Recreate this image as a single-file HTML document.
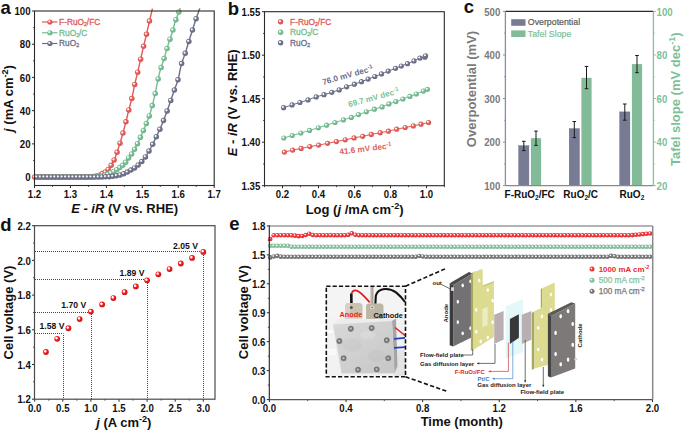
<!DOCTYPE html>
<html><head><meta charset="utf-8"><style>html,body{margin:0;padding:0;background:#fff;}svg{display:block;font-family:"Liberation Sans", sans-serif;}</style></head><body><svg width="685" height="431" viewBox="0 0 685 431"><rect width="685" height="431" fill="#fff"/><defs>
<radialGradient id="ga_r" cx="0.42" cy="0.42" r="0.62" fx="0.36" fy="0.36"><stop offset="0" stop-color="#fff"/><stop offset="0.15" stop-color="#fff" stop-opacity="0.95"/><stop offset="0.42" stop-color="#e4625e"/><stop offset="1" stop-color="#d45450"/></radialGradient>
<radialGradient id="ga_g" cx="0.42" cy="0.42" r="0.62" fx="0.36" fy="0.36"><stop offset="0" stop-color="#fff"/><stop offset="0.15" stop-color="#fff" stop-opacity="0.95"/><stop offset="0.42" stop-color="#7bc196"/><stop offset="1" stop-color="#69b085"/></radialGradient>
<radialGradient id="ga_p" cx="0.42" cy="0.42" r="0.62" fx="0.36" fy="0.36"><stop offset="0" stop-color="#fff"/><stop offset="0.15" stop-color="#fff" stop-opacity="0.95"/><stop offset="0.42" stop-color="#74778f"/><stop offset="1" stop-color="#64677f"/></radialGradient>
<radialGradient id="gd_r" cx="0.42" cy="0.42" r="0.62" fx="0.36" fy="0.36"><stop offset="0" stop-color="#fff"/><stop offset="0.22" stop-color="#fff" stop-opacity="0.95"/><stop offset="0.45" stop-color="#ee2222"/><stop offset="1" stop-color="#cc1010"/></radialGradient>
<radialGradient id="ge_r" cx="0.42" cy="0.42" r="0.62" fx="0.36" fy="0.36"><stop offset="0" stop-color="#fff"/><stop offset="0.12" stop-color="#fff" stop-opacity="0.95"/><stop offset="0.4" stop-color="#ef3c40"/><stop offset="1" stop-color="#e02a2e"/></radialGradient>
<radialGradient id="ge_g" cx="0.42" cy="0.42" r="0.62" fx="0.36" fy="0.36"><stop offset="0" stop-color="#fff"/><stop offset="0.12" stop-color="#fff" stop-opacity="0.95"/><stop offset="0.4" stop-color="#8cc4a2"/><stop offset="1" stop-color="#7ab592"/></radialGradient>
<radialGradient id="ge_k" cx="0.42" cy="0.42" r="0.62" fx="0.36" fy="0.36"><stop offset="0" stop-color="#fff"/><stop offset="0.12" stop-color="#fff" stop-opacity="0.95"/><stop offset="0.4" stop-color="#7d7d7d"/><stop offset="1" stop-color="#6a6a6a"/></radialGradient>
<linearGradient id="plate" x1="0" y1="0" x2="1" y2="1"><stop offset="0" stop-color="#d8d8d8"/><stop offset="0.5" stop-color="#d0d0d0"/><stop offset="1" stop-color="#c6c6c6"/></linearGradient>
<radialGradient id="bolt" cx="0.45" cy="0.45" r="0.55"><stop offset="0" stop-color="#cfcfcf"/><stop offset="0.3" stop-color="#9c9c9c"/><stop offset="0.55" stop-color="#6e6e6e"/><stop offset="0.8" stop-color="#858585"/><stop offset="1" stop-color="#b8b8b8"/></radialGradient>
</defs>
<line x1="34.5" y1="185.5" x2="34.5" y2="188" stroke="#2a2a2a" stroke-width="1" />
<text transform="translate(34.5,198.1) scale(0.91,1)" font-size="10.6" text-anchor="middle" font-weight="bold" fill="#111" >1.2</text>
<line x1="52.47" y1="185.5" x2="52.47" y2="187" stroke="#2a2a2a" stroke-width="0.8" />
<line x1="70.44" y1="185.5" x2="70.44" y2="188" stroke="#2a2a2a" stroke-width="1" />
<text transform="translate(70.44,198.1) scale(0.91,1)" font-size="10.6" text-anchor="middle" font-weight="bold" fill="#111" >1.3</text>
<line x1="88.41" y1="185.5" x2="88.41" y2="187" stroke="#2a2a2a" stroke-width="0.8" />
<line x1="106.38" y1="185.5" x2="106.38" y2="188" stroke="#2a2a2a" stroke-width="1" />
<text transform="translate(106.38,198.1) scale(0.91,1)" font-size="10.6" text-anchor="middle" font-weight="bold" fill="#111" >1.4</text>
<line x1="124.35" y1="185.5" x2="124.35" y2="187" stroke="#2a2a2a" stroke-width="0.8" />
<line x1="142.32" y1="185.5" x2="142.32" y2="188" stroke="#2a2a2a" stroke-width="1" />
<text transform="translate(142.32,198.1) scale(0.91,1)" font-size="10.6" text-anchor="middle" font-weight="bold" fill="#111" >1.5</text>
<line x1="160.29" y1="185.5" x2="160.29" y2="187" stroke="#2a2a2a" stroke-width="0.8" />
<line x1="178.26" y1="185.5" x2="178.26" y2="188" stroke="#2a2a2a" stroke-width="1" />
<text transform="translate(178.26,198.1) scale(0.91,1)" font-size="10.6" text-anchor="middle" font-weight="bold" fill="#111" >1.6</text>
<line x1="196.23" y1="185.5" x2="196.23" y2="187" stroke="#2a2a2a" stroke-width="0.8" />
<line x1="214.2" y1="185.5" x2="214.2" y2="188" stroke="#2a2a2a" stroke-width="1" />
<text transform="translate(214.2,198.1) scale(0.91,1)" font-size="10.6" text-anchor="middle" font-weight="bold" fill="#111" >1.7</text>
<line x1="32" y1="177.1" x2="34.5" y2="177.1" stroke="#2a2a2a" stroke-width="1" />
<text transform="translate(30.5,181.3) scale(0.91,1)" font-size="10.6" text-anchor="end" font-weight="bold" fill="#111" >0</text>
<line x1="33" y1="160.49" x2="34.5" y2="160.49" stroke="#2a2a2a" stroke-width="0.8" />
<line x1="32" y1="143.88" x2="34.5" y2="143.88" stroke="#2a2a2a" stroke-width="1" />
<text transform="translate(30.5,148.08) scale(0.91,1)" font-size="10.6" text-anchor="end" font-weight="bold" fill="#111" >20</text>
<line x1="33" y1="127.27" x2="34.5" y2="127.27" stroke="#2a2a2a" stroke-width="0.8" />
<line x1="32" y1="110.66" x2="34.5" y2="110.66" stroke="#2a2a2a" stroke-width="1" />
<text transform="translate(30.5,114.86) scale(0.91,1)" font-size="10.6" text-anchor="end" font-weight="bold" fill="#111" >40</text>
<line x1="33" y1="94.05" x2="34.5" y2="94.05" stroke="#2a2a2a" stroke-width="0.8" />
<line x1="32" y1="77.44" x2="34.5" y2="77.44" stroke="#2a2a2a" stroke-width="1" />
<text transform="translate(30.5,81.64) scale(0.91,1)" font-size="10.6" text-anchor="end" font-weight="bold" fill="#111" >60</text>
<line x1="33" y1="60.83" x2="34.5" y2="60.83" stroke="#2a2a2a" stroke-width="0.8" />
<line x1="32" y1="44.22" x2="34.5" y2="44.22" stroke="#2a2a2a" stroke-width="1" />
<text transform="translate(30.5,48.42) scale(0.91,1)" font-size="10.6" text-anchor="end" font-weight="bold" fill="#111" >80</text>
<line x1="33" y1="27.61" x2="34.5" y2="27.61" stroke="#2a2a2a" stroke-width="0.8" />
<line x1="32" y1="11" x2="34.5" y2="11" stroke="#2a2a2a" stroke-width="1" />
<text transform="translate(30.5,15.2) scale(0.91,1)" font-size="10.6" text-anchor="end" font-weight="bold" fill="#111" >100</text>
<path d="M34.5,177.1 L34.7,177.1 L34.91,177.1 L35.11,177.1 L35.32,177.1 L35.52,177.1 L35.72,177.1 L35.93,177.1 L36.13,177.1 L36.34,177.1 L36.54,177.1 L36.74,177.1 L36.95,177.1 L37.15,177.1 L37.36,177.1 L37.56,177.1 L37.76,177.1 L37.97,177.1 L38.17,177.1 L38.38,177.1 L38.58,177.1 L38.78,177.1 L38.99,177.1 L39.19,177.1 L39.4,177.1 L39.6,177.1 L39.8,177.1 L40.01,177.1 L40.21,177.1 L40.42,177.1 L40.62,177.1 L40.82,177.1 L41.03,177.1 L41.23,177.1 L41.44,177.1 L41.64,177.1 L41.84,177.1 L42.05,177.1 L42.25,177.1 L42.46,177.1 L42.66,177.1 L42.86,177.1 L43.07,177.1 L43.27,177.1 L43.48,177.1 L43.68,177.1 L43.88,177.1 L44.09,177.1 L44.29,177.1 L44.5,177.1 L44.7,177.1 L44.9,177.1 L45.11,177.1 L45.31,177.1 L45.52,177.1 L45.72,177.1 L45.92,177.1 L46.13,177.1 L46.33,177.1 L46.54,177.1 L46.74,177.1 L46.94,177.1 L47.15,177.1 L47.35,177.1 L47.56,177.1 L47.76,177.1 L47.96,177.1 L48.17,177.1 L48.37,177.1 L48.58,177.1 L48.78,177.1 L48.98,177.1 L49.19,177.1 L49.39,177.1 L49.6,177.1 L49.8,177.1 L50,177.1 L50.21,177.1 L50.41,177.1 L50.62,177.1 L50.82,177.1 L51.02,177.1 L51.23,177.1 L51.43,177.1 L51.64,177.1 L51.84,177.1 L52.04,177.1 L52.25,177.1 L52.45,177.1 L52.66,177.1 L52.86,177.1 L53.06,177.1 L53.27,177.1 L53.47,177.1 L53.68,177.1 L53.88,177.1 L54.08,177.1 L54.29,177.1 L54.49,177.1 L54.7,177.1 L54.9,177.1 L55.1,177.1 L55.31,177.1 L55.51,177.1 L55.72,177.1 L55.92,177.1 L56.12,177.1 L56.33,177.1 L56.53,177.1 L56.74,177.1 L56.94,177.1 L57.14,177.1 L57.35,177.1 L57.55,177.1 L57.76,177.1 L57.96,177.1 L58.16,177.1 L58.37,177.1 L58.57,177.1 L58.78,177.1 L58.98,177.1 L59.18,177.1 L59.39,177.1 L59.59,177.1 L59.8,177.1 L60,177.1 L60.2,177.1 L60.41,177.1 L60.61,177.1 L60.82,177.1 L61.02,177.1 L61.22,177.1 L61.43,177.1 L61.63,177.1 L61.84,177.1 L62.04,177.1 L62.24,177.1 L62.45,177.1 L62.65,177.1 L62.86,177.1 L63.06,177.1 L63.26,177.1 L63.47,177.1 L63.67,177.1 L63.88,177.1 L64.08,177.1 L64.28,177.1 L64.49,177.1 L64.69,177.1 L64.9,177.1 L65.1,177.1 L65.3,177.1 L65.51,177.1 L65.71,177.1 L65.92,177.1 L66.12,177.1 L66.32,177.1 L66.53,177.1 L66.73,177.1 L66.94,177.1 L67.14,177.1 L67.34,177.1 L67.55,177.1 L67.75,177.1 L67.96,177.1 L68.16,177.1 L68.36,177.1 L68.57,177.1 L68.77,177.1 L68.98,177.1 L69.18,177.1 L69.38,177.1 L69.59,177.1 L69.79,177.1 L70,177.1 L70.2,177.1 L70.4,177.1 L70.61,177.1 L70.81,177.1 L71.02,177.1 L71.22,177.1 L71.42,177.1 L71.63,177.1 L71.83,177.1 L72.04,177.1 L72.24,177.1 L72.44,177.1 L72.65,177.1 L72.85,177.1 L73.06,177.1 L73.26,177.1 L73.46,177.1 L73.67,177.1 L73.87,177.1 L74.08,177.1 L74.28,177.1 L74.48,177.1 L74.69,177.1 L74.89,177.1 L75.1,177.1 L75.3,177.1 L75.5,177.1 L75.71,177.1 L75.91,177.1 L76.12,177.1 L76.32,177.1 L76.52,177.1 L76.73,177.1 L76.93,177.1 L77.14,177.1 L77.34,177.1 L77.54,177.1 L77.75,177.1 L77.95,177.1 L78.16,177.1 L78.36,177.1 L78.56,177.1 L78.77,177.1 L78.97,177.1 L79.18,177.1 L79.38,177.1 L79.58,177.1 L79.79,177.1 L79.99,177.1 L80.2,177.1 L80.4,177.1 L80.6,177.1 L80.81,177.1 L81.01,177.1 L81.22,177.1 L81.42,177.1 L81.62,177.1 L81.83,177.1 L82.03,177.1 L82.24,177.1 L82.44,177.09 L82.64,177.09 L82.85,177.09 L83.05,177.09 L83.26,177.08 L83.46,177.08 L83.66,177.08 L83.87,177.07 L84.07,177.07 L84.28,177.07 L84.48,177.06 L84.68,177.06 L84.89,177.05 L85.09,177.05 L85.3,177.04 L85.5,177.03 L85.7,177.03 L85.91,177.02 L86.11,177.02 L86.32,177.01 L86.52,177 L86.72,176.99 L86.93,176.99 L87.13,176.98 L87.34,176.97 L87.54,176.96 L87.74,176.96 L87.95,176.95 L88.15,176.94 L88.36,176.93 L88.56,176.92 L88.76,176.92 L88.97,176.91 L89.17,176.9 L89.38,176.89 L89.58,176.88 L89.78,176.87 L89.99,176.86 L90.19,176.85 L90.4,176.84 L90.6,176.83 L90.8,176.82 L91.01,176.81 L91.21,176.79 L91.42,176.78 L91.62,176.76 L91.82,176.74 L92.03,176.72 L92.23,176.71 L92.44,176.69 L92.64,176.66 L92.84,176.64 L93.05,176.62 L93.25,176.6 L93.46,176.57 L93.66,176.55 L93.86,176.52 L94.07,176.49 L94.27,176.47 L94.48,176.44 L94.68,176.41 L94.88,176.38 L95.09,176.35 L95.29,176.32 L95.5,176.29 L95.7,176.25 L95.9,176.22 L96.11,176.18 L96.31,176.14 L96.52,176.09 L96.72,176.04 L96.92,175.99 L97.13,175.94 L97.33,175.88 L97.54,175.82 L97.74,175.76 L97.94,175.7 L98.15,175.63 L98.35,175.57 L98.56,175.5 L98.76,175.43 L98.96,175.36 L99.17,175.28 L99.37,175.2 L99.58,175.12 L99.78,175.02 L99.98,174.93 L100.19,174.82 L100.39,174.71 L100.6,174.6 L100.8,174.48 L101,174.36 L101.21,174.25 L101.41,174.13 L101.62,174.01 L101.82,173.89 L102.02,173.77 L102.23,173.66 L102.43,173.55 L102.64,173.45 L102.84,173.34 L103.04,173.24 L103.25,173.14 L103.45,173.04 L103.66,172.94 L103.86,172.84 L104.06,172.74 L104.27,172.63 L104.47,172.52 L104.68,172.41 L104.88,172.29 L105.08,172.16 L105.29,172.03 L105.49,171.89 L105.7,171.75 L105.9,171.59 L106.1,171.43 L106.31,171.27 L106.51,171.09 L106.72,170.91 L106.92,170.72 L107.12,170.53 L107.33,170.33 L107.53,170.12 L107.74,169.91 L107.94,169.7 L108.14,169.48 L108.35,169.25 L108.55,169.03 L108.76,168.79 L108.96,168.54 L109.16,168.29 L109.37,168.02 L109.57,167.74 L109.78,167.45 L109.98,167.16 L110.18,166.86 L110.39,166.55 L110.59,166.23 L110.8,165.92 L111,165.59 L111.2,165.26 L111.41,164.93 L111.61,164.6 L111.82,164.26 L112.02,163.91 L112.22,163.56 L112.43,163.21 L112.63,162.84 L112.84,162.47 L113.04,162.09 L113.24,161.7 L113.45,161.3 L113.65,160.9 L113.86,160.48 L114.06,160.05 L114.26,159.61 L114.47,159.16 L114.67,158.69 L114.88,158.21 L115.08,157.7 L115.28,157.18 L115.49,156.65 L115.69,156.1 L115.9,155.54 L116.1,154.97 L116.3,154.4 L116.51,153.82 L116.71,153.23 L116.92,152.65 L117.12,152.06 L117.32,151.47 L117.53,150.87 L117.73,150.27 L117.94,149.66 L118.14,149.05 L118.34,148.42 L118.55,147.79 L118.75,147.16 L118.96,146.52 L119.16,145.87 L119.36,145.22 L119.57,144.56 L119.77,143.9 L119.98,143.24 L120.18,142.58 L120.38,141.91 L120.59,141.23 L120.79,140.56 L121,139.88 L121.2,139.19 L121.4,138.5 L121.61,137.81 L121.81,137.11 L122.02,136.4 L122.22,135.69 L122.42,134.98 L122.63,134.26 L122.83,133.53 L123.04,132.8 L123.24,132.06 L123.44,131.32 L123.65,130.57 L123.85,129.81 L124.06,129.04 L124.26,128.26 L124.46,127.48 L124.67,126.69 L124.87,125.9 L125.08,125.1 L125.28,124.3 L125.48,123.49 L125.69,122.69 L125.89,121.88 L126.1,121.07 L126.3,120.26 L126.5,119.44 L126.71,118.62 L126.91,117.79 L127.12,116.96 L127.32,116.12 L127.52,115.28 L127.73,114.43 L127.93,113.59 L128.14,112.75 L128.34,111.92 L128.54,111.09 L128.75,110.26 L128.95,109.44 L129.16,108.64 L129.36,107.85 L129.56,107.07 L129.77,106.3 L129.97,105.54 L130.18,104.78 L130.38,104.02 L130.58,103.26 L130.79,102.5 L130.99,101.72 L131.2,100.94 L131.4,100.14 L131.6,99.33 L131.81,98.5 L132.01,97.64 L132.22,96.75 L132.42,95.83 L132.62,94.87 L132.83,93.88 L133.03,92.86 L133.24,91.84 L133.44,90.8 L133.64,89.76 L133.85,88.72 L134.05,87.69 L134.26,86.68 L134.46,85.7 L134.66,84.74 L134.87,83.82 L135.07,82.93 L135.28,82.05 L135.48,81.19 L135.68,80.35 L135.89,79.51 L136.09,78.68 L136.3,77.86 L136.5,77.04 L136.7,76.21 L136.91,75.38 L137.11,74.55 L137.32,73.7 L137.52,72.85 L137.72,71.98 L137.93,71.1 L138.13,70.21 L138.34,69.32 L138.54,68.43 L138.74,67.53 L138.95,66.63 L139.15,65.73 L139.36,64.82 L139.56,63.91 L139.76,63.01 L139.97,62.1 L140.17,61.2 L140.38,60.3 L140.58,59.4 L140.78,58.5 L140.99,57.6 L141.19,56.7 L141.4,55.79 L141.6,54.89 L141.8,53.98 L142.01,53.08 L142.21,52.18 L142.42,51.28 L142.62,50.39 L142.82,49.5 L143.03,48.62 L143.23,47.75 L143.44,46.88 L143.64,46.03 L143.84,45.19 L144.05,44.36 L144.25,43.54 L144.46,42.72 L144.66,41.9 L144.86,41.09 L145.07,40.28 L145.27,39.46 L145.48,38.65 L145.68,37.82 L145.88,36.99 L146.09,36.14 L146.29,35.28 L146.5,34.41 L146.7,33.53 L146.9,32.63 L147.11,31.71 L147.31,30.79 L147.52,29.86 L147.72,28.93 L147.92,27.99 L148.13,27.06 L148.33,26.12 L148.54,25.19 L148.74,24.27 L148.94,23.36 L149.15,22.46 L149.35,21.57 L149.56,20.69 L149.76,19.81 L149.96,18.93 L150.17,18.06 L150.37,17.2 L150.58,16.33 L150.78,15.47 L150.98,14.61 L151.19,13.75 L151.39,12.89 L151.6,12.04 L151.8,11.18 L152,10.33 L152.21,9.48 L152.41,8.63" fill="none" stroke="#e05a56" stroke-width="1.4"/>
<circle cx="34.54" cy="177.1" r="2.75" fill="url(#ga_r)"/>
<circle cx="37.48" cy="177.1" r="2.75" fill="url(#ga_r)"/>
<circle cx="40.43" cy="177.1" r="2.75" fill="url(#ga_r)"/>
<circle cx="43.38" cy="177.1" r="2.75" fill="url(#ga_r)"/>
<circle cx="46.32" cy="177.1" r="2.75" fill="url(#ga_r)"/>
<circle cx="49.27" cy="177.1" r="2.75" fill="url(#ga_r)"/>
<circle cx="52.22" cy="177.1" r="2.75" fill="url(#ga_r)"/>
<circle cx="55.17" cy="177.1" r="2.75" fill="url(#ga_r)"/>
<circle cx="58.11" cy="177.1" r="2.75" fill="url(#ga_r)"/>
<circle cx="61.06" cy="177.1" r="2.75" fill="url(#ga_r)"/>
<circle cx="64.01" cy="177.1" r="2.75" fill="url(#ga_r)"/>
<circle cx="66.95" cy="177.1" r="2.75" fill="url(#ga_r)"/>
<circle cx="69.9" cy="177.1" r="2.75" fill="url(#ga_r)"/>
<circle cx="72.85" cy="177.1" r="2.75" fill="url(#ga_r)"/>
<circle cx="75.8" cy="177.1" r="2.75" fill="url(#ga_r)"/>
<circle cx="78.74" cy="177.1" r="2.75" fill="url(#ga_r)"/>
<circle cx="81.69" cy="177.1" r="2.75" fill="url(#ga_r)"/>
<circle cx="84.64" cy="177.06" r="2.75" fill="url(#ga_r)"/>
<circle cx="87.58" cy="176.96" r="2.75" fill="url(#ga_r)"/>
<circle cx="90.53" cy="176.83" r="2.75" fill="url(#ga_r)"/>
<circle cx="93.48" cy="176.57" r="2.75" fill="url(#ga_r)"/>
<circle cx="96.42" cy="176.11" r="2.75" fill="url(#ga_r)"/>
<circle cx="99.37" cy="175.2" r="2.75" fill="url(#ga_r)"/>
<circle cx="102.32" cy="173.61" r="2.75" fill="url(#ga_r)"/>
<circle cx="105.27" cy="172.05" r="2.75" fill="url(#ga_r)"/>
<circle cx="108.21" cy="169.4" r="2.75" fill="url(#ga_r)"/>
<circle cx="111.16" cy="165.33" r="2.75" fill="url(#ga_r)"/>
<circle cx="114.11" cy="159.95" r="2.75" fill="url(#ga_r)"/>
<circle cx="117.05" cy="152.25" r="2.75" fill="url(#ga_r)"/>
<circle cx="120" cy="143.16" r="2.75" fill="url(#ga_r)"/>
<circle cx="122.95" cy="133.11" r="2.75" fill="url(#ga_r)"/>
<circle cx="125.9" cy="121.86" r="2.75" fill="url(#ga_r)"/>
<circle cx="128.84" cy="109.88" r="2.75" fill="url(#ga_r)"/>
<circle cx="131.79" cy="98.57" r="2.75" fill="url(#ga_r)"/>
<circle cx="134.74" cy="84.41" r="2.75" fill="url(#ga_r)"/>
<circle cx="137.68" cy="72.15" r="2.75" fill="url(#ga_r)"/>
<circle cx="140.63" cy="59.18" r="2.75" fill="url(#ga_r)"/>
<circle cx="143.58" cy="46.29" r="2.75" fill="url(#ga_r)"/>
<circle cx="146.52" cy="34.29" r="2.75" fill="url(#ga_r)"/>
<circle cx="149.47" cy="21.05" r="2.75" fill="url(#ga_r)"/>
<path d="M34.5,177.1 L34.75,177.1 L35,177.1 L35.25,177.1 L35.5,177.1 L35.74,177.1 L35.99,177.1 L36.24,177.1 L36.49,177.1 L36.74,177.1 L36.99,177.1 L37.24,177.1 L37.49,177.1 L37.74,177.1 L37.99,177.1 L38.24,177.1 L38.48,177.1 L38.73,177.1 L38.98,177.1 L39.23,177.1 L39.48,177.1 L39.73,177.1 L39.98,177.1 L40.23,177.1 L40.48,177.1 L40.72,177.1 L40.97,177.1 L41.22,177.1 L41.47,177.1 L41.72,177.1 L41.97,177.1 L42.22,177.1 L42.47,177.1 L42.72,177.1 L42.97,177.1 L43.21,177.1 L43.46,177.1 L43.71,177.1 L43.96,177.1 L44.21,177.1 L44.46,177.1 L44.71,177.1 L44.96,177.1 L45.21,177.1 L45.46,177.1 L45.71,177.1 L45.95,177.1 L46.2,177.1 L46.45,177.1 L46.7,177.1 L46.95,177.1 L47.2,177.1 L47.45,177.1 L47.7,177.1 L47.95,177.1 L48.19,177.1 L48.44,177.1 L48.69,177.1 L48.94,177.1 L49.19,177.1 L49.44,177.1 L49.69,177.1 L49.94,177.1 L50.19,177.1 L50.44,177.1 L50.69,177.1 L50.93,177.1 L51.18,177.1 L51.43,177.1 L51.68,177.1 L51.93,177.1 L52.18,177.1 L52.43,177.1 L52.68,177.1 L52.93,177.1 L53.17,177.1 L53.42,177.1 L53.67,177.1 L53.92,177.1 L54.17,177.1 L54.42,177.1 L54.67,177.1 L54.92,177.1 L55.17,177.1 L55.42,177.1 L55.67,177.1 L55.91,177.1 L56.16,177.1 L56.41,177.1 L56.66,177.1 L56.91,177.1 L57.16,177.1 L57.41,177.1 L57.66,177.1 L57.91,177.1 L58.15,177.1 L58.4,177.1 L58.65,177.1 L58.9,177.1 L59.15,177.1 L59.4,177.1 L59.65,177.1 L59.9,177.1 L60.15,177.1 L60.4,177.1 L60.65,177.1 L60.89,177.1 L61.14,177.1 L61.39,177.1 L61.64,177.1 L61.89,177.1 L62.14,177.1 L62.39,177.1 L62.64,177.1 L62.89,177.1 L63.14,177.1 L63.38,177.1 L63.63,177.1 L63.88,177.1 L64.13,177.1 L64.38,177.1 L64.63,177.1 L64.88,177.1 L65.13,177.1 L65.38,177.1 L65.62,177.1 L65.87,177.1 L66.12,177.1 L66.37,177.1 L66.62,177.1 L66.87,177.1 L67.12,177.1 L67.37,177.1 L67.62,177.1 L67.87,177.1 L68.12,177.1 L68.36,177.1 L68.61,177.1 L68.86,177.1 L69.11,177.1 L69.36,177.1 L69.61,177.1 L69.86,177.1 L70.11,177.1 L70.36,177.1 L70.6,177.1 L70.85,177.1 L71.1,177.1 L71.35,177.1 L71.6,177.1 L71.85,177.1 L72.1,177.1 L72.35,177.1 L72.6,177.1 L72.85,177.1 L73.1,177.1 L73.34,177.1 L73.59,177.1 L73.84,177.1 L74.09,177.1 L74.34,177.1 L74.59,177.1 L74.84,177.1 L75.09,177.1 L75.34,177.1 L75.58,177.1 L75.83,177.1 L76.08,177.1 L76.33,177.1 L76.58,177.1 L76.83,177.1 L77.08,177.1 L77.33,177.1 L77.58,177.1 L77.83,177.1 L78.07,177.1 L78.32,177.1 L78.57,177.1 L78.82,177.1 L79.07,177.1 L79.32,177.1 L79.57,177.1 L79.82,177.1 L80.07,177.1 L80.32,177.1 L80.57,177.1 L80.81,177.1 L81.06,177.1 L81.31,177.1 L81.56,177.1 L81.81,177.1 L82.06,177.1 L82.31,177.1 L82.56,177.1 L82.81,177.1 L83.05,177.1 L83.3,177.1 L83.55,177.1 L83.8,177.1 L84.05,177.1 L84.3,177.1 L84.55,177.1 L84.8,177.1 L85.05,177.1 L85.3,177.1 L85.55,177.1 L85.79,177.1 L86.04,177.1 L86.29,177.1 L86.54,177.1 L86.79,177.1 L87.04,177.1 L87.29,177.1 L87.54,177.1 L87.79,177.1 L88.03,177.1 L88.28,177.1 L88.53,177.1 L88.78,177.1 L89.03,177.1 L89.28,177.1 L89.53,177.09 L89.78,177.09 L90.03,177.08 L90.28,177.08 L90.53,177.07 L90.77,177.07 L91.02,177.06 L91.27,177.05 L91.52,177.04 L91.77,177.04 L92.02,177.03 L92.27,177.02 L92.52,177.01 L92.77,177 L93.02,176.98 L93.26,176.97 L93.51,176.96 L93.76,176.95 L94.01,176.94 L94.26,176.92 L94.51,176.91 L94.76,176.9 L95.01,176.88 L95.26,176.87 L95.5,176.86 L95.75,176.84 L96,176.82 L96.25,176.8 L96.5,176.78 L96.75,176.76 L97,176.73 L97.25,176.7 L97.5,176.67 L97.75,176.64 L98,176.6 L98.24,176.56 L98.49,176.53 L98.74,176.49 L98.99,176.45 L99.24,176.41 L99.49,176.37 L99.74,176.32 L99.99,176.28 L100.24,176.24 L100.48,176.19 L100.73,176.15 L100.98,176.1 L101.23,176.06 L101.48,176.01 L101.73,175.96 L101.98,175.91 L102.23,175.86 L102.48,175.8 L102.73,175.74 L102.98,175.68 L103.22,175.62 L103.47,175.56 L103.72,175.5 L103.97,175.43 L104.22,175.37 L104.47,175.3 L104.72,175.24 L104.97,175.17 L105.22,175.1 L105.46,175.03 L105.71,174.96 L105.96,174.89 L106.21,174.81 L106.46,174.74 L106.71,174.66 L106.96,174.58 L107.21,174.49 L107.46,174.41 L107.71,174.32 L107.96,174.22 L108.2,174.12 L108.45,174.02 L108.7,173.91 L108.95,173.79 L109.2,173.67 L109.45,173.55 L109.7,173.43 L109.95,173.31 L110.2,173.19 L110.44,173.07 L110.69,172.95 L110.94,172.83 L111.19,172.71 L111.44,172.6 L111.69,172.48 L111.94,172.37 L112.19,172.25 L112.44,172.14 L112.69,172.02 L112.93,171.9 L113.18,171.78 L113.43,171.65 L113.68,171.52 L113.93,171.39 L114.18,171.26 L114.43,171.13 L114.68,170.99 L114.93,170.85 L115.18,170.71 L115.43,170.57 L115.67,170.42 L115.92,170.28 L116.17,170.12 L116.42,169.97 L116.67,169.81 L116.92,169.64 L117.17,169.47 L117.42,169.3 L117.67,169.11 L117.91,168.93 L118.16,168.74 L118.41,168.55 L118.66,168.36 L118.91,168.17 L119.16,167.97 L119.41,167.78 L119.66,167.59 L119.91,167.41 L120.16,167.22 L120.41,167.03 L120.65,166.85 L120.9,166.66 L121.15,166.48 L121.4,166.29 L121.65,166.1 L121.9,165.9 L122.15,165.7 L122.4,165.49 L122.65,165.28 L122.89,165.06 L123.14,164.84 L123.39,164.61 L123.64,164.37 L123.89,164.13 L124.14,163.89 L124.39,163.63 L124.64,163.37 L124.89,163.1 L125.14,162.83 L125.38,162.54 L125.63,162.25 L125.88,161.94 L126.13,161.61 L126.38,161.26 L126.63,160.89 L126.88,160.51 L127.13,160.13 L127.38,159.73 L127.63,159.34 L127.88,158.95 L128.12,158.57 L128.37,158.2 L128.62,157.84 L128.87,157.5 L129.12,157.17 L129.37,156.84 L129.62,156.53 L129.87,156.21 L130.12,155.9 L130.37,155.59 L130.61,155.27 L130.86,154.95 L131.11,154.62 L131.36,154.29 L131.61,153.94 L131.86,153.58 L132.11,153.2 L132.36,152.82 L132.61,152.43 L132.86,152.02 L133.1,151.61 L133.35,151.2 L133.6,150.78 L133.85,150.35 L134.1,149.92 L134.35,149.48 L134.6,149.04 L134.85,148.6 L135.1,148.16 L135.34,147.71 L135.59,147.26 L135.84,146.8 L136.09,146.34 L136.34,145.87 L136.59,145.39 L136.84,144.91 L137.09,144.42 L137.34,143.93 L137.59,143.43 L137.84,142.93 L138.08,142.41 L138.33,141.89 L138.58,141.36 L138.83,140.83 L139.08,140.28 L139.33,139.74 L139.58,139.19 L139.83,138.63 L140.08,138.07 L140.32,137.52 L140.57,136.96 L140.82,136.39 L141.07,135.82 L141.32,135.24 L141.57,134.66 L141.82,134.08 L142.07,133.49 L142.32,132.91 L142.57,132.32 L142.82,131.73 L143.06,131.14 L143.31,130.55 L143.56,129.96 L143.81,129.38 L144.06,128.8 L144.31,128.22 L144.56,127.64 L144.81,127.06 L145.06,126.48 L145.31,125.9 L145.55,125.31 L145.8,124.72 L146.05,124.12 L146.3,123.52 L146.55,122.9 L146.8,122.28 L147.05,121.67 L147.3,121.05 L147.55,120.43 L147.79,119.81 L148.04,119.18 L148.29,118.54 L148.54,117.89 L148.79,117.22 L149.04,116.53 L149.29,115.83 L149.54,115.1 L149.79,114.34 L150.04,113.55 L150.29,112.73 L150.53,111.88 L150.78,111 L151.03,110.1 L151.28,109.18 L151.53,108.25 L151.78,107.31 L152.03,106.37 L152.28,105.42 L152.53,104.47 L152.77,103.52 L153.02,102.56 L153.27,101.59 L153.52,100.61 L153.77,99.61 L154.02,98.6 L154.27,97.57 L154.52,96.52 L154.77,95.44 L155.02,94.33 L155.27,93.18 L155.51,91.97 L155.76,90.7 L156.01,89.39 L156.26,88.07 L156.51,86.75 L156.76,85.45 L157.01,84.19 L157.26,82.99 L157.51,81.83 L157.75,80.69 L158,79.55 L158.25,78.43 L158.5,77.33 L158.75,76.24 L159,75.17 L159.25,74.13 L159.5,73.12 L159.75,72.14 L160,71.2 L160.24,70.29 L160.49,69.43 L160.74,68.6 L160.99,67.82 L161.24,67.06 L161.49,66.33 L161.74,65.6 L161.99,64.89 L162.24,64.17 L162.49,63.45 L162.74,62.71 L162.98,61.95 L163.23,61.16 L163.48,60.36 L163.73,59.54 L163.98,58.72 L164.23,57.88 L164.48,57.04 L164.73,56.2 L164.98,55.35 L165.22,54.51 L165.47,53.67 L165.72,52.83 L165.97,51.99 L166.22,51.17 L166.47,50.34 L166.72,49.51 L166.97,48.68 L167.22,47.85 L167.47,47.02 L167.72,46.2 L167.96,45.38 L168.21,44.56 L168.46,43.75 L168.71,42.95 L168.96,42.16 L169.21,41.37 L169.46,40.61 L169.71,39.86 L169.96,39.13 L170.2,38.4 L170.45,37.68 L170.7,36.96 L170.95,36.23 L171.2,35.5 L171.45,34.76 L171.7,34.01 L171.95,33.23 L172.2,32.44 L172.45,31.61 L172.7,30.74 L172.94,29.83 L173.19,28.88 L173.44,27.91 L173.69,26.93 L173.94,25.96 L174.19,25.01 L174.44,24.09 L174.69,23.22 L174.94,22.4 L175.19,21.63 L175.43,20.89 L175.68,20.17 L175.93,19.48 L176.18,18.8 L176.43,18.14 L176.68,17.49 L176.93,16.85 L177.18,16.21 L177.43,15.58 L177.68,14.94 L177.92,14.3 L178.17,13.65 L178.42,12.99 L178.67,12.32 L178.92,11.63 L179.17,10.92 L179.42,10.22 L179.67,9.51 L179.92,8.8 L180.16,8.08" fill="none" stroke="#74bd91" stroke-width="1.4"/>
<circle cx="37.01" cy="177.1" r="2.75" fill="url(#ga_g)"/>
<circle cx="39.96" cy="177.1" r="2.75" fill="url(#ga_g)"/>
<circle cx="42.92" cy="177.1" r="2.75" fill="url(#ga_g)"/>
<circle cx="45.87" cy="177.1" r="2.75" fill="url(#ga_g)"/>
<circle cx="48.83" cy="177.1" r="2.75" fill="url(#ga_g)"/>
<circle cx="51.78" cy="177.1" r="2.75" fill="url(#ga_g)"/>
<circle cx="54.73" cy="177.1" r="2.75" fill="url(#ga_g)"/>
<circle cx="57.69" cy="177.1" r="2.75" fill="url(#ga_g)"/>
<circle cx="60.64" cy="177.1" r="2.75" fill="url(#ga_g)"/>
<circle cx="63.6" cy="177.1" r="2.75" fill="url(#ga_g)"/>
<circle cx="66.55" cy="177.1" r="2.75" fill="url(#ga_g)"/>
<circle cx="69.51" cy="177.1" r="2.75" fill="url(#ga_g)"/>
<circle cx="72.46" cy="177.1" r="2.75" fill="url(#ga_g)"/>
<circle cx="75.41" cy="177.1" r="2.75" fill="url(#ga_g)"/>
<circle cx="78.37" cy="177.1" r="2.75" fill="url(#ga_g)"/>
<circle cx="81.32" cy="177.1" r="2.75" fill="url(#ga_g)"/>
<circle cx="84.28" cy="177.1" r="2.75" fill="url(#ga_g)"/>
<circle cx="87.23" cy="177.1" r="2.75" fill="url(#ga_g)"/>
<circle cx="90.19" cy="177.08" r="2.75" fill="url(#ga_g)"/>
<circle cx="93.14" cy="176.98" r="2.75" fill="url(#ga_g)"/>
<circle cx="96.09" cy="176.82" r="2.75" fill="url(#ga_g)"/>
<circle cx="99.05" cy="176.44" r="2.75" fill="url(#ga_g)"/>
<circle cx="102" cy="175.9" r="2.75" fill="url(#ga_g)"/>
<circle cx="104.96" cy="175.17" r="2.75" fill="url(#ga_g)"/>
<circle cx="107.91" cy="174.24" r="2.75" fill="url(#ga_g)"/>
<circle cx="110.87" cy="172.87" r="2.75" fill="url(#ga_g)"/>
<circle cx="113.82" cy="171.45" r="2.75" fill="url(#ga_g)"/>
<circle cx="116.77" cy="169.74" r="2.75" fill="url(#ga_g)"/>
<circle cx="119.73" cy="167.54" r="2.75" fill="url(#ga_g)"/>
<circle cx="122.68" cy="165.25" r="2.75" fill="url(#ga_g)"/>
<circle cx="125.64" cy="162.25" r="2.75" fill="url(#ga_g)"/>
<circle cx="128.59" cy="157.88" r="2.75" fill="url(#ga_g)"/>
<circle cx="131.55" cy="154.03" r="2.75" fill="url(#ga_g)"/>
<circle cx="134.5" cy="149.22" r="2.75" fill="url(#ga_g)"/>
<circle cx="137.45" cy="143.7" r="2.75" fill="url(#ga_g)"/>
<circle cx="140.41" cy="137.33" r="2.75" fill="url(#ga_g)"/>
<circle cx="143.36" cy="130.43" r="2.75" fill="url(#ga_g)"/>
<circle cx="146.32" cy="123.48" r="2.75" fill="url(#ga_g)"/>
<circle cx="149.27" cy="115.88" r="2.75" fill="url(#ga_g)"/>
<circle cx="152.23" cy="105.61" r="2.75" fill="url(#ga_g)"/>
<circle cx="155.18" cy="93.59" r="2.75" fill="url(#ga_g)"/>
<circle cx="158.13" cy="78.97" r="2.75" fill="url(#ga_g)"/>
<circle cx="161.09" cy="67.52" r="2.75" fill="url(#ga_g)"/>
<circle cx="164.04" cy="58.51" r="2.75" fill="url(#ga_g)"/>
<circle cx="167" cy="48.59" r="2.75" fill="url(#ga_g)"/>
<circle cx="169.95" cy="39.14" r="2.75" fill="url(#ga_g)"/>
<circle cx="172.9" cy="29.98" r="2.75" fill="url(#ga_g)"/>
<circle cx="175.86" cy="19.68" r="2.75" fill="url(#ga_g)"/>
<circle cx="178.81" cy="11.93" r="2.75" fill="url(#ga_g)"/>
<path d="M34.5,177.1 L34.78,177.1 L35.06,177.1 L35.35,177.1 L35.63,177.1 L35.91,177.1 L36.19,177.1 L36.47,177.1 L36.76,177.1 L37.04,177.1 L37.32,177.1 L37.6,177.1 L37.88,177.1 L38.17,177.1 L38.45,177.1 L38.73,177.1 L39.01,177.1 L39.29,177.1 L39.58,177.1 L39.86,177.1 L40.14,177.1 L40.42,177.1 L40.7,177.1 L40.99,177.1 L41.27,177.1 L41.55,177.1 L41.83,177.1 L42.11,177.1 L42.4,177.1 L42.68,177.1 L42.96,177.1 L43.24,177.1 L43.52,177.1 L43.81,177.1 L44.09,177.1 L44.37,177.1 L44.65,177.1 L44.93,177.1 L45.22,177.1 L45.5,177.1 L45.78,177.1 L46.06,177.1 L46.34,177.1 L46.63,177.1 L46.91,177.1 L47.19,177.1 L47.47,177.1 L47.75,177.1 L48.04,177.1 L48.32,177.1 L48.6,177.1 L48.88,177.1 L49.16,177.1 L49.45,177.1 L49.73,177.1 L50.01,177.1 L50.29,177.1 L50.57,177.1 L50.86,177.1 L51.14,177.1 L51.42,177.1 L51.7,177.1 L51.98,177.1 L52.27,177.1 L52.55,177.1 L52.83,177.1 L53.11,177.1 L53.39,177.1 L53.68,177.1 L53.96,177.1 L54.24,177.1 L54.52,177.1 L54.8,177.1 L55.09,177.1 L55.37,177.1 L55.65,177.1 L55.93,177.1 L56.21,177.1 L56.5,177.1 L56.78,177.1 L57.06,177.1 L57.34,177.1 L57.62,177.1 L57.91,177.1 L58.19,177.1 L58.47,177.1 L58.75,177.1 L59.03,177.1 L59.32,177.1 L59.6,177.1 L59.88,177.1 L60.16,177.1 L60.44,177.1 L60.73,177.1 L61.01,177.1 L61.29,177.1 L61.57,177.1 L61.85,177.1 L62.14,177.1 L62.42,177.1 L62.7,177.1 L62.98,177.1 L63.26,177.1 L63.55,177.1 L63.83,177.1 L64.11,177.1 L64.39,177.1 L64.67,177.1 L64.96,177.1 L65.24,177.1 L65.52,177.1 L65.8,177.1 L66.08,177.1 L66.37,177.1 L66.65,177.1 L66.93,177.1 L67.21,177.1 L67.49,177.1 L67.78,177.1 L68.06,177.1 L68.34,177.1 L68.62,177.1 L68.9,177.1 L69.19,177.1 L69.47,177.1 L69.75,177.1 L70.03,177.1 L70.31,177.1 L70.6,177.1 L70.88,177.1 L71.16,177.1 L71.44,177.1 L71.72,177.1 L72.01,177.1 L72.29,177.1 L72.57,177.1 L72.85,177.1 L73.13,177.1 L73.42,177.1 L73.7,177.1 L73.98,177.1 L74.26,177.1 L74.54,177.1 L74.83,177.1 L75.11,177.1 L75.39,177.1 L75.67,177.1 L75.95,177.1 L76.24,177.1 L76.52,177.1 L76.8,177.1 L77.08,177.1 L77.36,177.1 L77.65,177.1 L77.93,177.1 L78.21,177.1 L78.49,177.1 L78.77,177.1 L79.06,177.1 L79.34,177.1 L79.62,177.1 L79.9,177.1 L80.18,177.1 L80.47,177.1 L80.75,177.1 L81.03,177.1 L81.31,177.1 L81.59,177.1 L81.88,177.1 L82.16,177.1 L82.44,177.1 L82.72,177.1 L83,177.1 L83.29,177.1 L83.57,177.1 L83.85,177.1 L84.13,177.1 L84.41,177.1 L84.7,177.1 L84.98,177.1 L85.26,177.1 L85.54,177.1 L85.82,177.1 L86.11,177.1 L86.39,177.1 L86.67,177.1 L86.95,177.1 L87.23,177.1 L87.52,177.1 L87.8,177.1 L88.08,177.1 L88.36,177.1 L88.64,177.1 L88.93,177.1 L89.21,177.1 L89.49,177.1 L89.77,177.1 L90.05,177.1 L90.34,177.1 L90.62,177.1 L90.9,177.1 L91.18,177.1 L91.46,177.1 L91.75,177.1 L92.03,177.1 L92.31,177.1 L92.59,177.1 L92.87,177.1 L93.16,177.1 L93.44,177.1 L93.72,177.1 L94,177.1 L94.28,177.1 L94.57,177.1 L94.85,177.1 L95.13,177.1 L95.41,177.1 L95.69,177.1 L95.98,177.1 L96.26,177.1 L96.54,177.1 L96.82,177.09 L97.1,177.09 L97.39,177.08 L97.67,177.08 L97.95,177.07 L98.23,177.07 L98.51,177.06 L98.8,177.05 L99.08,177.05 L99.36,177.04 L99.64,177.03 L99.92,177.02 L100.21,177.02 L100.49,177.01 L100.77,177 L101.05,176.99 L101.33,176.98 L101.62,176.97 L101.9,176.96 L102.18,176.95 L102.46,176.94 L102.74,176.94 L103.03,176.93 L103.31,176.92 L103.59,176.91 L103.87,176.9 L104.15,176.89 L104.44,176.88 L104.72,176.87 L105,176.86 L105.28,176.84 L105.56,176.83 L105.85,176.82 L106.13,176.81 L106.41,176.8 L106.69,176.78 L106.97,176.77 L107.26,176.76 L107.54,176.74 L107.82,176.73 L108.1,176.71 L108.38,176.7 L108.67,176.68 L108.95,176.66 L109.23,176.65 L109.51,176.63 L109.79,176.61 L110.08,176.6 L110.36,176.58 L110.64,176.56 L110.92,176.53 L111.2,176.51 L111.49,176.49 L111.77,176.46 L112.05,176.44 L112.33,176.41 L112.61,176.38 L112.9,176.35 L113.18,176.32 L113.46,176.28 L113.74,176.25 L114.02,176.21 L114.31,176.16 L114.59,176.12 L114.87,176.07 L115.15,176.02 L115.43,175.96 L115.72,175.9 L116,175.85 L116.28,175.79 L116.56,175.73 L116.84,175.67 L117.13,175.61 L117.41,175.55 L117.69,175.5 L117.97,175.44 L118.25,175.38 L118.54,175.32 L118.82,175.26 L119.1,175.19 L119.38,175.13 L119.66,175.06 L119.95,174.99 L120.23,174.92 L120.51,174.84 L120.79,174.76 L121.07,174.68 L121.36,174.59 L121.64,174.5 L121.92,174.4 L122.2,174.3 L122.48,174.2 L122.77,174.09 L123.05,173.99 L123.33,173.88 L123.61,173.76 L123.89,173.65 L124.18,173.54 L124.46,173.42 L124.74,173.3 L125.02,173.18 L125.3,173.06 L125.59,172.93 L125.87,172.8 L126.15,172.67 L126.43,172.54 L126.71,172.4 L127,172.26 L127.28,172.12 L127.56,171.98 L127.84,171.84 L128.12,171.69 L128.41,171.53 L128.69,171.38 L128.97,171.22 L129.25,171.05 L129.53,170.89 L129.82,170.72 L130.1,170.56 L130.38,170.39 L130.66,170.22 L130.94,170.05 L131.23,169.89 L131.51,169.72 L131.79,169.56 L132.07,169.4 L132.35,169.23 L132.64,169.07 L132.92,168.9 L133.2,168.73 L133.48,168.56 L133.76,168.39 L134.05,168.21 L134.33,168.03 L134.61,167.84 L134.89,167.65 L135.17,167.45 L135.46,167.24 L135.74,167.03 L136.02,166.82 L136.3,166.59 L136.58,166.37 L136.87,166.14 L137.15,165.9 L137.43,165.66 L137.71,165.42 L137.99,165.17 L138.28,164.92 L138.56,164.67 L138.84,164.41 L139.12,164.15 L139.4,163.89 L139.69,163.62 L139.97,163.35 L140.25,163.07 L140.53,162.79 L140.81,162.5 L141.1,162.2 L141.38,161.91 L141.66,161.6 L141.94,161.29 L142.22,160.97 L142.51,160.65 L142.79,160.32 L143.07,159.98 L143.35,159.64 L143.63,159.29 L143.92,158.93 L144.2,158.56 L144.48,158.19 L144.76,157.81 L145.04,157.42 L145.33,157.03 L145.61,156.62 L145.89,156.21 L146.17,155.79 L146.45,155.36 L146.74,154.91 L147.02,154.45 L147.3,153.98 L147.58,153.5 L147.86,153.02 L148.15,152.53 L148.43,152.04 L148.71,151.55 L148.99,151.05 L149.27,150.56 L149.56,150.06 L149.84,149.56 L150.12,149.06 L150.4,148.55 L150.68,148.04 L150.97,147.53 L151.25,147.01 L151.53,146.49 L151.81,145.96 L152.09,145.42 L152.38,144.88 L152.66,144.33 L152.94,143.77 L153.22,143.21 L153.5,142.63 L153.79,142.04 L154.07,141.44 L154.35,140.84 L154.63,140.23 L154.91,139.62 L155.2,139 L155.48,138.39 L155.76,137.78 L156.04,137.18 L156.32,136.58 L156.61,135.99 L156.89,135.41 L157.17,134.84 L157.45,134.27 L157.73,133.7 L158.02,133.14 L158.3,132.57 L158.58,132 L158.86,131.42 L159.14,130.84 L159.43,130.25 L159.71,129.64 L159.99,129.03 L160.27,128.4 L160.55,127.75 L160.84,127.09 L161.12,126.42 L161.4,125.74 L161.68,125.05 L161.96,124.36 L162.25,123.65 L162.53,122.95 L162.81,122.23 L163.09,121.52 L163.37,120.8 L163.66,120.08 L163.94,119.37 L164.22,118.65 L164.5,117.92 L164.78,117.2 L165.07,116.47 L165.35,115.73 L165.63,114.99 L165.91,114.25 L166.19,113.5 L166.48,112.74 L166.76,111.98 L167.04,111.21 L167.32,110.43 L167.6,109.64 L167.89,108.84 L168.17,108.02 L168.45,107.2 L168.73,106.37 L169.01,105.54 L169.3,104.71 L169.58,103.87 L169.86,103.04 L170.14,102.21 L170.42,101.38 L170.71,100.57 L170.99,99.76 L171.27,98.94 L171.55,98.14 L171.83,97.33 L172.12,96.52 L172.4,95.72 L172.68,94.91 L172.96,94.1 L173.24,93.3 L173.53,92.49 L173.81,91.68 L174.09,90.87 L174.37,90.07 L174.65,89.28 L174.94,88.52 L175.22,87.76 L175.5,87.02 L175.78,86.27 L176.06,85.52 L176.35,84.75 L176.63,83.97 L176.91,83.17 L177.19,82.33 L177.47,81.46 L177.76,80.55 L178.04,79.6 L178.32,78.58 L178.6,77.43 L178.88,76.15 L179.17,74.79 L179.45,73.35 L179.73,71.89 L180.01,70.43 L180.29,69 L180.58,67.64 L180.86,66.37 L181.14,65.23 L181.42,64.22 L181.7,63.27 L181.99,62.37 L182.27,61.52 L182.55,60.7 L182.83,59.9 L183.11,59.13 L183.4,58.38 L183.68,57.62 L183.96,56.87 L184.24,56.11 L184.52,55.33 L184.81,54.52 L185.09,53.69 L185.37,52.82 L185.65,51.93 L185.93,51.02 L186.22,50.1 L186.5,49.18 L186.78,48.24 L187.06,47.3 L187.34,46.36 L187.63,45.42 L187.91,44.47 L188.19,43.54 L188.47,42.61 L188.75,41.69 L189.04,40.79 L189.32,39.89 L189.6,38.99 L189.88,38.1 L190.16,37.21 L190.45,36.33 L190.73,35.44 L191.01,34.56 L191.29,33.68 L191.57,32.8 L191.86,31.91 L192.14,31.03 L192.42,30.15 L192.7,29.26 L192.98,28.37 L193.27,27.48 L193.55,26.59 L193.83,25.7 L194.11,24.81 L194.39,23.93 L194.68,23.05 L194.96,22.18 L195.24,21.32 L195.52,20.46 L195.8,19.62 L196.09,18.79 L196.37,17.98 L196.65,17.17 L196.93,16.37 L197.21,15.58 L197.5,14.79 L197.78,14 L198.06,13.2 L198.34,12.41 L198.62,11.6 L198.91,10.79 L199.19,9.98 L199.47,9.17 L199.75,8.36" fill="none" stroke="#6b6e89" stroke-width="1.4"/>
<circle cx="36.84" cy="177.1" r="2.75" fill="url(#ga_p)"/>
<circle cx="40.46" cy="177.1" r="2.75" fill="url(#ga_p)"/>
<circle cx="44.07" cy="177.1" r="2.75" fill="url(#ga_p)"/>
<circle cx="47.69" cy="177.1" r="2.75" fill="url(#ga_p)"/>
<circle cx="51.31" cy="177.1" r="2.75" fill="url(#ga_p)"/>
<circle cx="54.93" cy="177.1" r="2.75" fill="url(#ga_p)"/>
<circle cx="58.55" cy="177.1" r="2.75" fill="url(#ga_p)"/>
<circle cx="62.17" cy="177.1" r="2.75" fill="url(#ga_p)"/>
<circle cx="65.79" cy="177.1" r="2.75" fill="url(#ga_p)"/>
<circle cx="69.41" cy="177.1" r="2.75" fill="url(#ga_p)"/>
<circle cx="73.03" cy="177.1" r="2.75" fill="url(#ga_p)"/>
<circle cx="76.65" cy="177.1" r="2.75" fill="url(#ga_p)"/>
<circle cx="80.27" cy="177.1" r="2.75" fill="url(#ga_p)"/>
<circle cx="83.89" cy="177.1" r="2.75" fill="url(#ga_p)"/>
<circle cx="87.5" cy="177.1" r="2.75" fill="url(#ga_p)"/>
<circle cx="91.12" cy="177.1" r="2.75" fill="url(#ga_p)"/>
<circle cx="94.74" cy="177.1" r="2.75" fill="url(#ga_p)"/>
<circle cx="98.36" cy="177.07" r="2.75" fill="url(#ga_p)"/>
<circle cx="101.98" cy="176.96" r="2.75" fill="url(#ga_p)"/>
<circle cx="105.6" cy="176.83" r="2.75" fill="url(#ga_p)"/>
<circle cx="109.22" cy="176.65" r="2.75" fill="url(#ga_p)"/>
<circle cx="112.84" cy="176.35" r="2.75" fill="url(#ga_p)"/>
<circle cx="116.46" cy="175.75" r="2.75" fill="url(#ga_p)"/>
<circle cx="120.08" cy="174.96" r="2.75" fill="url(#ga_p)"/>
<circle cx="123.7" cy="173.73" r="2.75" fill="url(#ga_p)"/>
<circle cx="127.32" cy="172.11" r="2.75" fill="url(#ga_p)"/>
<circle cx="130.93" cy="170.06" r="2.75" fill="url(#ga_p)"/>
<circle cx="134.55" cy="167.88" r="2.75" fill="url(#ga_p)"/>
<circle cx="138.17" cy="165.01" r="2.75" fill="url(#ga_p)"/>
<circle cx="141.79" cy="161.46" r="2.75" fill="url(#ga_p)"/>
<circle cx="145.41" cy="156.91" r="2.75" fill="url(#ga_p)"/>
<circle cx="149.03" cy="150.98" r="2.75" fill="url(#ga_p)"/>
<circle cx="152.65" cy="144.35" r="2.75" fill="url(#ga_p)"/>
<circle cx="156.27" cy="136.7" r="2.75" fill="url(#ga_p)"/>
<circle cx="159.89" cy="129.25" r="2.75" fill="url(#ga_p)"/>
<circle cx="163.51" cy="120.46" r="2.75" fill="url(#ga_p)"/>
<circle cx="167.13" cy="110.97" r="2.75" fill="url(#ga_p)"/>
<circle cx="170.74" cy="100.46" r="2.75" fill="url(#ga_p)"/>
<circle cx="174.36" cy="90.09" r="2.75" fill="url(#ga_p)"/>
<circle cx="177.98" cy="79.78" r="2.75" fill="url(#ga_p)"/>
<circle cx="181.6" cy="63.61" r="2.75" fill="url(#ga_p)"/>
<circle cx="185.22" cy="53.28" r="2.75" fill="url(#ga_p)"/>
<circle cx="188.84" cy="41.42" r="2.75" fill="url(#ga_p)"/>
<circle cx="192.46" cy="30.03" r="2.75" fill="url(#ga_p)"/>
<circle cx="196.08" cy="18.81" r="2.75" fill="url(#ga_p)"/>
<rect x="34.5" y="11.0" width="179.7" height="174.5" fill="none" stroke="#2a2a2a" stroke-width="1.1"/>
<line x1="42" y1="22" x2="57.4" y2="22" stroke="#e05a56" stroke-width="1.2" />
<circle cx="49.9" cy="22" r="2.6" fill="url(#ga_r)"/>
<text x="59.1" y="24.8" font-size="8.3" text-anchor="start" font-weight="normal" fill="#e05a56" stroke="#e05a56" stroke-width="0.3">F-RuO<tspan baseline-shift="-12%" font-size="0.62em">2</tspan>/FC</text>
<line x1="42" y1="32.75" x2="57.4" y2="32.75" stroke="#74bd91" stroke-width="1.2" />
<circle cx="49.9" cy="32.75" r="2.6" fill="url(#ga_g)"/>
<text x="59.1" y="35.55" font-size="8.3" text-anchor="start" font-weight="normal" fill="#74bd91" stroke="#74bd91" stroke-width="0.3">RuO<tspan baseline-shift="-12%" font-size="0.62em">2</tspan>/C</text>
<line x1="42" y1="43.5" x2="57.4" y2="43.5" stroke="#6b6e89" stroke-width="1.2" />
<circle cx="49.9" cy="43.5" r="2.6" fill="url(#ga_p)"/>
<text x="59.1" y="46.3" font-size="8.3" text-anchor="start" font-weight="normal" fill="#6b6e89" stroke="#6b6e89" stroke-width="0.3">RuO<tspan baseline-shift="-12%" font-size="0.62em">2</tspan></text>
<text x="0.6" y="13.5" font-size="18.5" text-anchor="start" font-weight="bold" fill="#111" >a</text>
<text transform="translate(13.3,98.5) rotate(-90)" font-size="13" text-anchor="middle" font-weight="bold" fill="#111"><tspan font-style="italic">j</tspan> (mA cm<tspan baseline-shift="55%" font-size="0.7em">-2</tspan>)</text>
<text x="124.6" y="213.2" font-size="13" text-anchor="middle" font-weight="bold" fill="#111" ><tspan font-style="italic">E</tspan> - <tspan font-style="italic">iR</tspan> (V vs. RHE)</text>
<line x1="282.5" y1="185.7" x2="282.5" y2="188.2" stroke="#2a2a2a" stroke-width="1" />
<text transform="translate(282.5,198.2) scale(0.91,1)" font-size="10.6" text-anchor="middle" font-weight="bold" fill="#111" >0.2</text>
<line x1="318.5" y1="185.7" x2="318.5" y2="188.2" stroke="#2a2a2a" stroke-width="1" />
<text transform="translate(318.5,198.2) scale(0.91,1)" font-size="10.6" text-anchor="middle" font-weight="bold" fill="#111" >0.4</text>
<line x1="354.5" y1="185.7" x2="354.5" y2="188.2" stroke="#2a2a2a" stroke-width="1" />
<text transform="translate(354.5,198.2) scale(0.91,1)" font-size="10.6" text-anchor="middle" font-weight="bold" fill="#111" >0.6</text>
<line x1="390.5" y1="185.7" x2="390.5" y2="188.2" stroke="#2a2a2a" stroke-width="1" />
<text transform="translate(390.5,198.2) scale(0.91,1)" font-size="10.6" text-anchor="middle" font-weight="bold" fill="#111" >0.8</text>
<line x1="426.5" y1="185.7" x2="426.5" y2="188.2" stroke="#2a2a2a" stroke-width="1" />
<text transform="translate(426.5,198.2) scale(0.91,1)" font-size="10.6" text-anchor="middle" font-weight="bold" fill="#111" >1.0</text>
<line x1="264.5" y1="185.7" x2="264.5" y2="187.2" stroke="#2a2a2a" stroke-width="0.8" />
<line x1="300.5" y1="185.7" x2="300.5" y2="187.2" stroke="#2a2a2a" stroke-width="0.8" />
<line x1="336.5" y1="185.7" x2="336.5" y2="187.2" stroke="#2a2a2a" stroke-width="0.8" />
<line x1="372.5" y1="185.7" x2="372.5" y2="187.2" stroke="#2a2a2a" stroke-width="0.8" />
<line x1="408.5" y1="185.7" x2="408.5" y2="187.2" stroke="#2a2a2a" stroke-width="0.8" />
<line x1="444.5" y1="185.7" x2="444.5" y2="187.2" stroke="#2a2a2a" stroke-width="0.8" />
<line x1="262" y1="185.7" x2="264.5" y2="185.7" stroke="#2a2a2a" stroke-width="1" />
<text transform="translate(260.3,189.9) scale(0.91,1)" font-size="10.6" text-anchor="end" font-weight="bold" fill="#111" >1.35</text>
<line x1="263" y1="163.95" x2="264.5" y2="163.95" stroke="#2a2a2a" stroke-width="0.8" />
<line x1="262" y1="142.2" x2="264.5" y2="142.2" stroke="#2a2a2a" stroke-width="1" />
<text transform="translate(260.3,146.4) scale(0.91,1)" font-size="10.6" text-anchor="end" font-weight="bold" fill="#111" >1.40</text>
<line x1="263" y1="120.45" x2="264.5" y2="120.45" stroke="#2a2a2a" stroke-width="0.8" />
<line x1="262" y1="98.7" x2="264.5" y2="98.7" stroke="#2a2a2a" stroke-width="1" />
<text transform="translate(260.3,102.9) scale(0.91,1)" font-size="10.6" text-anchor="end" font-weight="bold" fill="#111" >1.45</text>
<line x1="263" y1="76.95" x2="264.5" y2="76.95" stroke="#2a2a2a" stroke-width="0.8" />
<line x1="262" y1="55.2" x2="264.5" y2="55.2" stroke="#2a2a2a" stroke-width="1" />
<text transform="translate(260.3,59.4) scale(0.91,1)" font-size="10.6" text-anchor="end" font-weight="bold" fill="#111" >1.50</text>
<line x1="263" y1="33.45" x2="264.5" y2="33.45" stroke="#2a2a2a" stroke-width="0.8" />
<line x1="262" y1="11.7" x2="264.5" y2="11.7" stroke="#2a2a2a" stroke-width="1" />
<text transform="translate(260.3,15.9) scale(0.91,1)" font-size="10.6" text-anchor="end" font-weight="bold" fill="#111" >1.55</text>
<line x1="263" y1="-10.05" x2="264.5" y2="-10.05" stroke="#2a2a2a" stroke-width="0.8" />
<path d="M284.4,152.1 L292.6,150.1 L301.1,148.4 L309.8,146.6 L318.6,145.1 L327.6,143.3 L336.4,141.6 L345.2,139.8 L354.1,137.9 L362.7,136.3 L371.3,134.4 L380.2,132.7 L388.4,131.2 L396.6,129.2 L405.2,127.5 L413.3,125.9 L421,124.2 L428.6,122.5" fill="none" stroke="#e05a56" stroke-width="1"/>
<circle cx="284.4" cy="152.1" r="2.6" fill="url(#ga_r)"/>
<circle cx="292.6" cy="150.1" r="2.6" fill="url(#ga_r)"/>
<circle cx="301.1" cy="148.4" r="2.6" fill="url(#ga_r)"/>
<circle cx="309.8" cy="146.6" r="2.6" fill="url(#ga_r)"/>
<circle cx="318.6" cy="145.1" r="2.6" fill="url(#ga_r)"/>
<circle cx="327.6" cy="143.3" r="2.6" fill="url(#ga_r)"/>
<circle cx="336.4" cy="141.6" r="2.6" fill="url(#ga_r)"/>
<circle cx="345.2" cy="139.8" r="2.6" fill="url(#ga_r)"/>
<circle cx="354.1" cy="137.9" r="2.6" fill="url(#ga_r)"/>
<circle cx="362.7" cy="136.3" r="2.6" fill="url(#ga_r)"/>
<circle cx="371.3" cy="134.4" r="2.6" fill="url(#ga_r)"/>
<circle cx="380.2" cy="132.7" r="2.6" fill="url(#ga_r)"/>
<circle cx="388.4" cy="131.2" r="2.6" fill="url(#ga_r)"/>
<circle cx="396.6" cy="129.2" r="2.6" fill="url(#ga_r)"/>
<circle cx="405.2" cy="127.5" r="2.6" fill="url(#ga_r)"/>
<circle cx="413.3" cy="125.9" r="2.6" fill="url(#ga_r)"/>
<circle cx="421" cy="124.2" r="2.6" fill="url(#ga_r)"/>
<circle cx="428.6" cy="122.5" r="2.6" fill="url(#ga_r)"/>
<path d="M283.8,138 L292.2,135.5 L300.8,133 L309.5,130.4 L318.3,127.8 L326.5,125.2 L335,122.5 L343.4,119.9 L351.3,117.4 L358.5,114.6 L366.3,111.8 L374.3,109.2 L382.1,106.9 L388.9,103.9 L395.9,101.6 L402.9,99 L409.9,96.4 L416.3,94 L423.3,91.1 L427.4,89.3" fill="none" stroke="#74bd91" stroke-width="1"/>
<circle cx="283.8" cy="138" r="2.6" fill="url(#ga_g)"/>
<circle cx="292.2" cy="135.5" r="2.6" fill="url(#ga_g)"/>
<circle cx="300.8" cy="133" r="2.6" fill="url(#ga_g)"/>
<circle cx="309.5" cy="130.4" r="2.6" fill="url(#ga_g)"/>
<circle cx="318.3" cy="127.8" r="2.6" fill="url(#ga_g)"/>
<circle cx="326.5" cy="125.2" r="2.6" fill="url(#ga_g)"/>
<circle cx="335" cy="122.5" r="2.6" fill="url(#ga_g)"/>
<circle cx="343.4" cy="119.9" r="2.6" fill="url(#ga_g)"/>
<circle cx="351.3" cy="117.4" r="2.6" fill="url(#ga_g)"/>
<circle cx="358.5" cy="114.6" r="2.6" fill="url(#ga_g)"/>
<circle cx="366.3" cy="111.8" r="2.6" fill="url(#ga_g)"/>
<circle cx="374.3" cy="109.2" r="2.6" fill="url(#ga_g)"/>
<circle cx="382.1" cy="106.9" r="2.6" fill="url(#ga_g)"/>
<circle cx="388.9" cy="103.9" r="2.6" fill="url(#ga_g)"/>
<circle cx="395.9" cy="101.6" r="2.6" fill="url(#ga_g)"/>
<circle cx="402.9" cy="99" r="2.6" fill="url(#ga_g)"/>
<circle cx="409.9" cy="96.4" r="2.6" fill="url(#ga_g)"/>
<circle cx="416.3" cy="94" r="2.6" fill="url(#ga_g)"/>
<circle cx="423.3" cy="91.1" r="2.6" fill="url(#ga_g)"/>
<circle cx="427.4" cy="89.3" r="2.6" fill="url(#ga_g)"/>
<path d="M283.6,107.7 L292.1,104.9 L299.9,102.5 L308,99.9 L316.2,96.9 L324,94.7 L331.8,92.3 L339.2,89.9 L346.6,86.8 L354.4,84.2 L361.5,81.7 L368.1,79.1 L374.8,76.5 L381.5,73.9 L388.2,71.1 L395.5,68.3 L401.3,66 L407.5,63.7 L414,60.9 L419.9,58.1 L424.9,57.2 L425.6,55.8" fill="none" stroke="#6b6e89" stroke-width="1"/>
<circle cx="283.6" cy="107.7" r="2.6" fill="url(#ga_p)"/>
<circle cx="292.1" cy="104.9" r="2.6" fill="url(#ga_p)"/>
<circle cx="299.9" cy="102.5" r="2.6" fill="url(#ga_p)"/>
<circle cx="308" cy="99.9" r="2.6" fill="url(#ga_p)"/>
<circle cx="316.2" cy="96.9" r="2.6" fill="url(#ga_p)"/>
<circle cx="324" cy="94.7" r="2.6" fill="url(#ga_p)"/>
<circle cx="331.8" cy="92.3" r="2.6" fill="url(#ga_p)"/>
<circle cx="339.2" cy="89.9" r="2.6" fill="url(#ga_p)"/>
<circle cx="346.6" cy="86.8" r="2.6" fill="url(#ga_p)"/>
<circle cx="354.4" cy="84.2" r="2.6" fill="url(#ga_p)"/>
<circle cx="361.5" cy="81.7" r="2.6" fill="url(#ga_p)"/>
<circle cx="368.1" cy="79.1" r="2.6" fill="url(#ga_p)"/>
<circle cx="374.8" cy="76.5" r="2.6" fill="url(#ga_p)"/>
<circle cx="381.5" cy="73.9" r="2.6" fill="url(#ga_p)"/>
<circle cx="388.2" cy="71.1" r="2.6" fill="url(#ga_p)"/>
<circle cx="395.5" cy="68.3" r="2.6" fill="url(#ga_p)"/>
<circle cx="401.3" cy="66" r="2.6" fill="url(#ga_p)"/>
<circle cx="407.5" cy="63.7" r="2.6" fill="url(#ga_p)"/>
<circle cx="414" cy="60.9" r="2.6" fill="url(#ga_p)"/>
<circle cx="419.9" cy="58.1" r="2.6" fill="url(#ga_p)"/>
<circle cx="424.9" cy="57.2" r="2.6" fill="url(#ga_p)"/>
<circle cx="425.6" cy="55.8" r="2.6" fill="url(#ga_p)"/>
<rect x="264.5" y="11.7" width="179.8" height="174" fill="none" stroke="#2a2a2a" stroke-width="1.1"/>
<circle cx="280.6" cy="21.7" r="2.7" fill="url(#ga_r)"/>
<text x="290.1" y="24.5" font-size="8.3" text-anchor="start" font-weight="normal" fill="#e05a56" stroke="#e05a56" stroke-width="0.3">F-RuO<tspan baseline-shift="-12%" font-size="0.62em">2</tspan>/FC</text>
<circle cx="280.6" cy="32.25" r="2.7" fill="url(#ga_g)"/>
<text x="290.1" y="35.05" font-size="8.3" text-anchor="start" font-weight="normal" fill="#74bd91" stroke="#74bd91" stroke-width="0.3">RuO<tspan baseline-shift="-12%" font-size="0.62em">2</tspan>/C</text>
<circle cx="280.6" cy="42.8" r="2.7" fill="url(#ga_p)"/>
<text x="290.1" y="45.6" font-size="8.3" text-anchor="start" font-weight="normal" fill="#6b6e89" stroke="#6b6e89" stroke-width="0.3">RuO<tspan baseline-shift="-12%" font-size="0.62em">2</tspan></text>
<text transform="translate(323.2,84.9) rotate(-15.6)" font-size="8.2" font-weight="bold" fill="#6a6e8e">76.0 mV dec<tspan baseline-shift="55%" font-size="0.7em">-1</tspan></text>
<text transform="translate(349,107.2) rotate(-15.3)" font-size="8.2" font-weight="bold" fill="#7dbf97">69.7 mV dec<tspan baseline-shift="55%" font-size="0.7em">-1</tspan></text>
<text transform="translate(339.7,154.5) rotate(-6.7)" font-size="8.2" font-weight="bold" fill="#e0605c">41.6 mV dec<tspan baseline-shift="55%" font-size="0.7em">-1</tspan></text>
<text x="227.8" y="14.9" font-size="18.5" text-anchor="start" font-weight="bold" fill="#111" >b</text>
<text transform="translate(237.3,102.8) rotate(-90)" font-size="13" text-anchor="middle" font-weight="bold" fill="#111"><tspan font-style="italic">E</tspan> - <tspan font-style="italic">iR</tspan> (V vs. RHE)</text>
<text x="354.6" y="213.6" font-size="13" text-anchor="middle" font-weight="bold" fill="#111" >Log (<tspan font-style="italic">j</tspan> /mA cm<tspan baseline-shift="55%" font-size="0.7em">-2</tspan>)</text>
<line x1="502.9" y1="185.6" x2="505.4" y2="185.6" stroke="#8a8daa" stroke-width="1" />
<text transform="translate(500.3,189.8) scale(0.91,1)" font-size="10.6" text-anchor="end" font-weight="bold" fill="#7a7a7a" >100</text>
<line x1="503.9" y1="163.83" x2="505.4" y2="163.83" stroke="#8a8daa" stroke-width="0.8" />
<line x1="502.9" y1="142.05" x2="505.4" y2="142.05" stroke="#8a8daa" stroke-width="1" />
<text transform="translate(500.3,146.25) scale(0.91,1)" font-size="10.6" text-anchor="end" font-weight="bold" fill="#7a7a7a" >200</text>
<line x1="503.9" y1="120.28" x2="505.4" y2="120.28" stroke="#8a8daa" stroke-width="0.8" />
<line x1="502.9" y1="98.5" x2="505.4" y2="98.5" stroke="#8a8daa" stroke-width="1" />
<text transform="translate(500.3,102.7) scale(0.91,1)" font-size="10.6" text-anchor="end" font-weight="bold" fill="#7a7a7a" >300</text>
<line x1="503.9" y1="76.73" x2="505.4" y2="76.73" stroke="#8a8daa" stroke-width="0.8" />
<line x1="502.9" y1="54.95" x2="505.4" y2="54.95" stroke="#8a8daa" stroke-width="1" />
<text transform="translate(500.3,59.15) scale(0.91,1)" font-size="10.6" text-anchor="end" font-weight="bold" fill="#7a7a7a" >400</text>
<line x1="503.9" y1="33.17" x2="505.4" y2="33.17" stroke="#8a8daa" stroke-width="0.8" />
<line x1="502.9" y1="11.4" x2="505.4" y2="11.4" stroke="#8a8daa" stroke-width="1" />
<text transform="translate(500.3,15.6) scale(0.91,1)" font-size="10.6" text-anchor="end" font-weight="bold" fill="#7a7a7a" >500</text>
<line x1="653.4" y1="185.6" x2="655.9" y2="185.6" stroke="#86c29c" stroke-width="1" />
<text transform="translate(656.6,189.8) scale(0.91,1)" font-size="10.6" text-anchor="start" font-weight="bold" fill="#7dbf97" >20</text>
<line x1="653.4" y1="163.83" x2="654.9" y2="163.83" stroke="#86c29c" stroke-width="0.8" />
<line x1="653.4" y1="142.05" x2="655.9" y2="142.05" stroke="#86c29c" stroke-width="1" />
<text transform="translate(656.6,146.25) scale(0.91,1)" font-size="10.6" text-anchor="start" font-weight="bold" fill="#7dbf97" >40</text>
<line x1="653.4" y1="120.28" x2="654.9" y2="120.28" stroke="#86c29c" stroke-width="0.8" />
<line x1="653.4" y1="98.5" x2="655.9" y2="98.5" stroke="#86c29c" stroke-width="1" />
<text transform="translate(656.6,102.7) scale(0.91,1)" font-size="10.6" text-anchor="start" font-weight="bold" fill="#7dbf97" >60</text>
<line x1="653.4" y1="76.73" x2="654.9" y2="76.73" stroke="#86c29c" stroke-width="0.8" />
<line x1="653.4" y1="54.95" x2="655.9" y2="54.95" stroke="#86c29c" stroke-width="1" />
<text transform="translate(656.6,59.15) scale(0.91,1)" font-size="10.6" text-anchor="start" font-weight="bold" fill="#7dbf97" >80</text>
<line x1="653.4" y1="33.18" x2="654.9" y2="33.18" stroke="#86c29c" stroke-width="0.8" />
<line x1="653.4" y1="11.4" x2="655.9" y2="11.4" stroke="#86c29c" stroke-width="1" />
<text transform="translate(656.6,15.6) scale(0.91,1)" font-size="10.6" text-anchor="start" font-weight="bold" fill="#7dbf97" >100</text>
<rect x="518.7" y="145.75" width="10.2" height="39.85" fill="#787b94" stroke="#5e6180" stroke-width="0.4"/>
<rect x="530.9" y="138.13" width="10.2" height="47.47" fill="#82bb97"/>
<line x1="523.8" y1="141.3" x2="523.8" y2="150.6" stroke="#1a1a1a" stroke-width="1" />
<line x1="522" y1="141.3" x2="525.6" y2="141.3" stroke="#1a1a1a" stroke-width="1" />
<line x1="522" y1="150.6" x2="525.6" y2="150.6" stroke="#1a1a1a" stroke-width="1" />
<line x1="536" y1="131.1" x2="536" y2="145.4" stroke="#1a1a1a" stroke-width="1" />
<line x1="534.2" y1="131.1" x2="537.8" y2="131.1" stroke="#1a1a1a" stroke-width="1" />
<line x1="534.2" y1="145.4" x2="537.8" y2="145.4" stroke="#1a1a1a" stroke-width="1" />
<rect x="569.2" y="128.68" width="10.2" height="56.92" fill="#787b94" stroke="#5e6180" stroke-width="0.4"/>
<rect x="581.4" y="77.81" width="10.2" height="107.79" fill="#82bb97"/>
<line x1="574.3" y1="121.5" x2="574.3" y2="137.6" stroke="#1a1a1a" stroke-width="1" />
<line x1="572.5" y1="121.5" x2="576.1" y2="121.5" stroke="#1a1a1a" stroke-width="1" />
<line x1="572.5" y1="137.6" x2="576.1" y2="137.6" stroke="#1a1a1a" stroke-width="1" />
<line x1="586.5" y1="66.4" x2="586.5" y2="88.7" stroke="#1a1a1a" stroke-width="1" />
<line x1="584.7" y1="66.4" x2="588.3" y2="66.4" stroke="#1a1a1a" stroke-width="1" />
<line x1="584.7" y1="88.7" x2="588.3" y2="88.7" stroke="#1a1a1a" stroke-width="1" />
<rect x="619.7" y="111.91" width="10.2" height="73.69" fill="#787b94" stroke="#5e6180" stroke-width="0.4"/>
<rect x="631.9" y="64.1" width="10.2" height="121.5" fill="#82bb97"/>
<line x1="624.8" y1="104" x2="624.8" y2="120.2" stroke="#1a1a1a" stroke-width="1" />
<line x1="623" y1="104" x2="626.6" y2="104" stroke="#1a1a1a" stroke-width="1" />
<line x1="623" y1="120.2" x2="626.6" y2="120.2" stroke="#1a1a1a" stroke-width="1" />
<line x1="637" y1="55.5" x2="637" y2="72.7" stroke="#1a1a1a" stroke-width="1" />
<line x1="635.2" y1="55.5" x2="638.8" y2="55.5" stroke="#1a1a1a" stroke-width="1" />
<line x1="635.2" y1="72.7" x2="638.8" y2="72.7" stroke="#1a1a1a" stroke-width="1" />
<line x1="505.4" y1="11.4" x2="653.4" y2="11.4" stroke="#2a2a2a" stroke-width="1.1" />
<line x1="505.4" y1="11.4" x2="505.4" y2="185.6" stroke="#8a8daa" stroke-width="1.3" />
<line x1="653.4" y1="11.4" x2="653.4" y2="185.6" stroke="#86c29c" stroke-width="1.3" />
<line x1="505.4" y1="185.6" x2="653.4" y2="185.6" stroke="#8a8a8a" stroke-width="1.4" />
<rect x="511.2" y="19.2" width="14.3" height="6.6" fill="#787b94"/>
<rect x="511.2" y="30.4" width="14.3" height="6.6" fill="#82bb97"/>
<text x="527.8" y="25.3" font-size="8.8" text-anchor="start" font-weight="normal" fill="#5a5a5a" stroke="#5a5a5a" stroke-width="0.2">Overpotential</text>
<text x="527.8" y="36.5" font-size="8.8" text-anchor="start" font-weight="normal" fill="#7dbf97" stroke="#7dbf97" stroke-width="0.2">Tafel Slope</text>
<text x="529.7" y="198.2" font-size="10" text-anchor="middle" font-weight="bold" fill="#111" >F-RuO<tspan baseline-shift="-30%" font-size="0.65em">2</tspan>/FC</text>
<text x="580.7" y="198.2" font-size="10" text-anchor="middle" font-weight="bold" fill="#111" >RuO<tspan baseline-shift="-30%" font-size="0.65em">2</tspan>/C</text>
<text x="631.9" y="198.2" font-size="10" text-anchor="middle" font-weight="bold" fill="#111" >RuO<tspan baseline-shift="-30%" font-size="0.65em">2</tspan></text>
<text x="463.7" y="13.4" font-size="18.5" text-anchor="start" font-weight="bold" fill="#111" >c</text>
<text transform="translate(476.3,89) rotate(-90)" font-size="13" text-anchor="middle" font-weight="bold" fill="#7a7a7a">Overpotential (mV)</text>
<text transform="translate(680.3,99.2) rotate(-90)" font-size="13" text-anchor="middle" font-weight="bold" fill="#7dbf97">Tafel slope (mV dec<tspan baseline-shift="55%" font-size="0.7em">-1</tspan>)</text>
<line x1="34.7" y1="399.2" x2="34.7" y2="401.7" stroke="#2a2a2a" stroke-width="1" />
<text transform="translate(34.7,412.3) scale(0.91,1)" font-size="10.6" text-anchor="middle" font-weight="bold" fill="#111" >0.0</text>
<line x1="48.75" y1="399.2" x2="48.75" y2="400.7" stroke="#2a2a2a" stroke-width="0.8" />
<line x1="62.8" y1="399.2" x2="62.8" y2="401.7" stroke="#2a2a2a" stroke-width="1" />
<text transform="translate(62.8,412.3) scale(0.91,1)" font-size="10.6" text-anchor="middle" font-weight="bold" fill="#111" >0.5</text>
<line x1="76.85" y1="399.2" x2="76.85" y2="400.7" stroke="#2a2a2a" stroke-width="0.8" />
<line x1="90.9" y1="399.2" x2="90.9" y2="401.7" stroke="#2a2a2a" stroke-width="1" />
<text transform="translate(90.9,412.3) scale(0.91,1)" font-size="10.6" text-anchor="middle" font-weight="bold" fill="#111" >1.0</text>
<line x1="104.95" y1="399.2" x2="104.95" y2="400.7" stroke="#2a2a2a" stroke-width="0.8" />
<line x1="119" y1="399.2" x2="119" y2="401.7" stroke="#2a2a2a" stroke-width="1" />
<text transform="translate(119,412.3) scale(0.91,1)" font-size="10.6" text-anchor="middle" font-weight="bold" fill="#111" >1.5</text>
<line x1="133.05" y1="399.2" x2="133.05" y2="400.7" stroke="#2a2a2a" stroke-width="0.8" />
<line x1="147.1" y1="399.2" x2="147.1" y2="401.7" stroke="#2a2a2a" stroke-width="1" />
<text transform="translate(147.1,412.3) scale(0.91,1)" font-size="10.6" text-anchor="middle" font-weight="bold" fill="#111" >2.0</text>
<line x1="161.15" y1="399.2" x2="161.15" y2="400.7" stroke="#2a2a2a" stroke-width="0.8" />
<line x1="175.2" y1="399.2" x2="175.2" y2="401.7" stroke="#2a2a2a" stroke-width="1" />
<text transform="translate(175.2,412.3) scale(0.91,1)" font-size="10.6" text-anchor="middle" font-weight="bold" fill="#111" >2.5</text>
<line x1="189.25" y1="399.2" x2="189.25" y2="400.7" stroke="#2a2a2a" stroke-width="0.8" />
<line x1="203.3" y1="399.2" x2="203.3" y2="401.7" stroke="#2a2a2a" stroke-width="1" />
<text transform="translate(203.3,412.3) scale(0.91,1)" font-size="10.6" text-anchor="middle" font-weight="bold" fill="#111" >3.0</text>
<line x1="32" y1="399.2" x2="34.5" y2="399.2" stroke="#2a2a2a" stroke-width="1" />
<text transform="translate(30.8,403.4) scale(0.91,1)" font-size="10.6" text-anchor="end" font-weight="bold" fill="#111" >1.2</text>
<line x1="33" y1="381.85" x2="34.5" y2="381.85" stroke="#2a2a2a" stroke-width="0.8" />
<line x1="32" y1="364.5" x2="34.5" y2="364.5" stroke="#2a2a2a" stroke-width="1" />
<text transform="translate(30.8,368.7) scale(0.91,1)" font-size="10.6" text-anchor="end" font-weight="bold" fill="#111" >1.4</text>
<line x1="33" y1="347.15" x2="34.5" y2="347.15" stroke="#2a2a2a" stroke-width="0.8" />
<line x1="32" y1="329.8" x2="34.5" y2="329.8" stroke="#2a2a2a" stroke-width="1" />
<text transform="translate(30.8,334) scale(0.91,1)" font-size="10.6" text-anchor="end" font-weight="bold" fill="#111" >1.6</text>
<line x1="33" y1="312.45" x2="34.5" y2="312.45" stroke="#2a2a2a" stroke-width="0.8" />
<line x1="32" y1="295.1" x2="34.5" y2="295.1" stroke="#2a2a2a" stroke-width="1" />
<text transform="translate(30.8,299.3) scale(0.91,1)" font-size="10.6" text-anchor="end" font-weight="bold" fill="#111" >1.8</text>
<line x1="33" y1="277.75" x2="34.5" y2="277.75" stroke="#2a2a2a" stroke-width="0.8" />
<line x1="32" y1="260.4" x2="34.5" y2="260.4" stroke="#2a2a2a" stroke-width="1" />
<text transform="translate(30.8,264.6) scale(0.91,1)" font-size="10.6" text-anchor="end" font-weight="bold" fill="#111" >2.0</text>
<line x1="33" y1="243.05" x2="34.5" y2="243.05" stroke="#2a2a2a" stroke-width="0.8" />
<line x1="32" y1="225.7" x2="34.5" y2="225.7" stroke="#2a2a2a" stroke-width="1" />
<text transform="translate(30.8,229.9) scale(0.91,1)" font-size="10.6" text-anchor="end" font-weight="bold" fill="#111" >2.2</text>
<path d="M35,333.5 L63.5,333.5" fill="none" stroke="#444" stroke-width="1" stroke-dasharray="1 1"/>
<path d="M63.5,335 L63.5,399.2" fill="none" stroke="#444" stroke-width="1" stroke-dasharray="1 1"/>
<path d="M35,312.5 L91.5,312.5" fill="none" stroke="#444" stroke-width="1" stroke-dasharray="1 1"/>
<path d="M91.5,314 L91.5,399.2" fill="none" stroke="#444" stroke-width="1" stroke-dasharray="1 1"/>
<path d="M35,279.5 L147.5,279.5" fill="none" stroke="#444" stroke-width="1" stroke-dasharray="1 1"/>
<path d="M147.5,281 L147.5,399.2" fill="none" stroke="#444" stroke-width="1" stroke-dasharray="1 1"/>
<path d="M35,251.5 L203.5,251.5" fill="none" stroke="#444" stroke-width="1" stroke-dasharray="1 1"/>
<path d="M203.5,253 L203.5,399.2" fill="none" stroke="#444" stroke-width="1" stroke-dasharray="1 1"/>
<circle cx="45.94" cy="352.01" r="2.9" fill="url(#gd_r)"/>
<circle cx="57.18" cy="338.82" r="2.9" fill="url(#gd_r)"/>
<circle cx="68.42" cy="328.24" r="2.9" fill="url(#gd_r)"/>
<circle cx="79.66" cy="319.04" r="2.9" fill="url(#gd_r)"/>
<circle cx="90.9" cy="311.58" r="2.9" fill="url(#gd_r)"/>
<circle cx="102.14" cy="304.47" r="2.9" fill="url(#gd_r)"/>
<circle cx="113.38" cy="298.05" r="2.9" fill="url(#gd_r)"/>
<circle cx="124.62" cy="292.15" r="2.9" fill="url(#gd_r)"/>
<circle cx="135.86" cy="286.42" r="2.9" fill="url(#gd_r)"/>
<circle cx="147.1" cy="280.35" r="2.9" fill="url(#gd_r)"/>
<circle cx="158.34" cy="274.28" r="2.9" fill="url(#gd_r)"/>
<circle cx="169.58" cy="269.07" r="2.9" fill="url(#gd_r)"/>
<circle cx="180.82" cy="263.52" r="2.9" fill="url(#gd_r)"/>
<circle cx="192.06" cy="257.97" r="2.9" fill="url(#gd_r)"/>
<circle cx="203.3" cy="251.9" r="2.9" fill="url(#gd_r)"/>
<rect x="34.5" y="225.7" width="180.5" height="173.5" fill="none" stroke="#4a4a4a" stroke-width="1.2"/>
<text x="52" y="329.3" font-size="8.6" text-anchor="middle" font-weight="bold" fill="#111" >1.58 V</text>
<text x="73.7" y="308" font-size="8.6" text-anchor="middle" font-weight="bold" fill="#111" >1.70 V</text>
<text x="132" y="276" font-size="8.6" text-anchor="middle" font-weight="bold" fill="#111" >1.89 V</text>
<text x="185.5" y="248.7" font-size="8.6" text-anchor="middle" font-weight="bold" fill="#111" >2.05 V</text>
<text x="0.2" y="230.5" font-size="18.5" text-anchor="start" font-weight="bold" fill="#111" >d</text>
<text transform="translate(13.2,312.5) rotate(-90)" font-size="13" text-anchor="middle" font-weight="bold" fill="#111">Cell voltage (V)</text>
<text x="123.8" y="426.6" font-size="13" text-anchor="middle" font-weight="bold" fill="#111" ><tspan font-style="italic">j</tspan> (A cm<tspan baseline-shift="55%" font-size="0.7em">-2</tspan>)</text>
<line x1="269.4" y1="399.6" x2="269.4" y2="402.1" stroke="#2a2a2a" stroke-width="1" />
<text transform="translate(269.4,412.2) scale(0.91,1)" font-size="10.6" text-anchor="middle" font-weight="bold" fill="#111" >0.0</text>
<line x1="307.71" y1="399.6" x2="307.71" y2="401.1" stroke="#2a2a2a" stroke-width="0.8" />
<line x1="346.02" y1="399.6" x2="346.02" y2="402.1" stroke="#2a2a2a" stroke-width="1" />
<text transform="translate(346.02,412.2) scale(0.91,1)" font-size="10.6" text-anchor="middle" font-weight="bold" fill="#111" >0.4</text>
<line x1="384.33" y1="399.6" x2="384.33" y2="401.1" stroke="#2a2a2a" stroke-width="0.8" />
<line x1="422.64" y1="399.6" x2="422.64" y2="402.1" stroke="#2a2a2a" stroke-width="1" />
<text transform="translate(422.64,412.2) scale(0.91,1)" font-size="10.6" text-anchor="middle" font-weight="bold" fill="#111" >0.8</text>
<line x1="460.95" y1="399.6" x2="460.95" y2="401.1" stroke="#2a2a2a" stroke-width="0.8" />
<line x1="499.26" y1="399.6" x2="499.26" y2="402.1" stroke="#2a2a2a" stroke-width="1" />
<text transform="translate(499.26,412.2) scale(0.91,1)" font-size="10.6" text-anchor="middle" font-weight="bold" fill="#111" >1.2</text>
<line x1="537.57" y1="399.6" x2="537.57" y2="401.1" stroke="#2a2a2a" stroke-width="0.8" />
<line x1="575.88" y1="399.6" x2="575.88" y2="402.1" stroke="#2a2a2a" stroke-width="1" />
<text transform="translate(575.88,412.2) scale(0.91,1)" font-size="10.6" text-anchor="middle" font-weight="bold" fill="#111" >1.6</text>
<line x1="614.19" y1="399.6" x2="614.19" y2="401.1" stroke="#2a2a2a" stroke-width="0.8" />
<line x1="652.5" y1="399.6" x2="652.5" y2="402.1" stroke="#2a2a2a" stroke-width="1" />
<text transform="translate(652.5,412.2) scale(0.91,1)" font-size="10.6" text-anchor="middle" font-weight="bold" fill="#111" >2.0</text>
<line x1="266.8" y1="399.6" x2="269.3" y2="399.6" stroke="#2a2a2a" stroke-width="1" />
<text transform="translate(265.4,403.8) scale(0.91,1)" font-size="10.6" text-anchor="end" font-weight="bold" fill="#111" >0.0</text>
<line x1="267.8" y1="385.12" x2="269.3" y2="385.12" stroke="#2a2a2a" stroke-width="0.8" />
<line x1="266.8" y1="370.65" x2="269.3" y2="370.65" stroke="#2a2a2a" stroke-width="1" />
<text transform="translate(265.4,374.85) scale(0.91,1)" font-size="10.6" text-anchor="end" font-weight="bold" fill="#111" >0.3</text>
<line x1="267.8" y1="356.18" x2="269.3" y2="356.18" stroke="#2a2a2a" stroke-width="0.8" />
<line x1="266.8" y1="341.7" x2="269.3" y2="341.7" stroke="#2a2a2a" stroke-width="1" />
<text transform="translate(265.4,345.9) scale(0.91,1)" font-size="10.6" text-anchor="end" font-weight="bold" fill="#111" >0.6</text>
<line x1="267.8" y1="327.23" x2="269.3" y2="327.23" stroke="#2a2a2a" stroke-width="0.8" />
<line x1="266.8" y1="312.75" x2="269.3" y2="312.75" stroke="#2a2a2a" stroke-width="1" />
<text transform="translate(265.4,316.95) scale(0.91,1)" font-size="10.6" text-anchor="end" font-weight="bold" fill="#111" >0.9</text>
<line x1="267.8" y1="298.28" x2="269.3" y2="298.28" stroke="#2a2a2a" stroke-width="0.8" />
<line x1="266.8" y1="283.8" x2="269.3" y2="283.8" stroke="#2a2a2a" stroke-width="1" />
<text transform="translate(265.4,288) scale(0.91,1)" font-size="10.6" text-anchor="end" font-weight="bold" fill="#111" >1.2</text>
<line x1="267.8" y1="269.33" x2="269.3" y2="269.33" stroke="#2a2a2a" stroke-width="0.8" />
<line x1="266.8" y1="254.85" x2="269.3" y2="254.85" stroke="#2a2a2a" stroke-width="1" />
<text transform="translate(265.4,259.05) scale(0.91,1)" font-size="10.6" text-anchor="end" font-weight="bold" fill="#111" >1.5</text>
<line x1="267.8" y1="240.38" x2="269.3" y2="240.38" stroke="#2a2a2a" stroke-width="0.8" />
<line x1="266.8" y1="225.9" x2="269.3" y2="225.9" stroke="#2a2a2a" stroke-width="1" />
<text transform="translate(265.4,230.1) scale(0.91,1)" font-size="10.6" text-anchor="end" font-weight="bold" fill="#111" >1.8</text>
<circle cx="270.2" cy="257.39" r="2.3" fill="url(#ge_k)"/>
<circle cx="273.75" cy="256.52" r="2.3" fill="url(#ge_k)"/>
<circle cx="277.3" cy="255.91" r="2.3" fill="url(#ge_k)"/>
<circle cx="280.85" cy="256.63" r="2.3" fill="url(#ge_k)"/>
<circle cx="284.4" cy="256.8" r="2.3" fill="url(#ge_k)"/>
<circle cx="287.95" cy="256.8" r="2.3" fill="url(#ge_k)"/>
<circle cx="291.5" cy="256.8" r="2.3" fill="url(#ge_k)"/>
<circle cx="295.05" cy="256.8" r="2.3" fill="url(#ge_k)"/>
<circle cx="298.6" cy="256.8" r="2.3" fill="url(#ge_k)"/>
<circle cx="302.15" cy="256.8" r="2.3" fill="url(#ge_k)"/>
<circle cx="305.7" cy="256.8" r="2.3" fill="url(#ge_k)"/>
<circle cx="309.25" cy="256.8" r="2.3" fill="url(#ge_k)"/>
<circle cx="312.8" cy="256.8" r="2.3" fill="url(#ge_k)"/>
<circle cx="316.35" cy="256.8" r="2.3" fill="url(#ge_k)"/>
<circle cx="319.9" cy="256.8" r="2.3" fill="url(#ge_k)"/>
<circle cx="323.45" cy="256.8" r="2.3" fill="url(#ge_k)"/>
<circle cx="327" cy="256.8" r="2.3" fill="url(#ge_k)"/>
<circle cx="330.55" cy="256.8" r="2.3" fill="url(#ge_k)"/>
<circle cx="334.1" cy="256.8" r="2.3" fill="url(#ge_k)"/>
<circle cx="337.65" cy="256.8" r="2.3" fill="url(#ge_k)"/>
<circle cx="341.2" cy="256.8" r="2.3" fill="url(#ge_k)"/>
<circle cx="344.75" cy="256.8" r="2.3" fill="url(#ge_k)"/>
<circle cx="348.3" cy="256.8" r="2.3" fill="url(#ge_k)"/>
<circle cx="351.85" cy="256.8" r="2.3" fill="url(#ge_k)"/>
<circle cx="355.4" cy="256.8" r="2.3" fill="url(#ge_k)"/>
<circle cx="358.95" cy="256.8" r="2.3" fill="url(#ge_k)"/>
<circle cx="362.5" cy="256.8" r="2.3" fill="url(#ge_k)"/>
<circle cx="366.05" cy="256.8" r="2.3" fill="url(#ge_k)"/>
<circle cx="369.6" cy="256.8" r="2.3" fill="url(#ge_k)"/>
<circle cx="373.15" cy="256.8" r="2.3" fill="url(#ge_k)"/>
<circle cx="376.7" cy="256.8" r="2.3" fill="url(#ge_k)"/>
<circle cx="380.25" cy="256.8" r="2.3" fill="url(#ge_k)"/>
<circle cx="383.8" cy="256.8" r="2.3" fill="url(#ge_k)"/>
<circle cx="387.35" cy="256.8" r="2.3" fill="url(#ge_k)"/>
<circle cx="390.9" cy="256.8" r="2.3" fill="url(#ge_k)"/>
<circle cx="394.45" cy="256.8" r="2.3" fill="url(#ge_k)"/>
<circle cx="398" cy="256.8" r="2.3" fill="url(#ge_k)"/>
<circle cx="401.55" cy="256.8" r="2.3" fill="url(#ge_k)"/>
<circle cx="405.1" cy="256.8" r="2.3" fill="url(#ge_k)"/>
<circle cx="408.65" cy="256.8" r="2.3" fill="url(#ge_k)"/>
<circle cx="412.2" cy="256.8" r="2.3" fill="url(#ge_k)"/>
<circle cx="415.75" cy="256.68" r="2.3" fill="url(#ge_k)"/>
<circle cx="419.3" cy="255.95" r="2.3" fill="url(#ge_k)"/>
<circle cx="422.85" cy="256.44" r="2.3" fill="url(#ge_k)"/>
<circle cx="426.4" cy="256.79" r="2.3" fill="url(#ge_k)"/>
<circle cx="429.95" cy="256.8" r="2.3" fill="url(#ge_k)"/>
<circle cx="433.5" cy="256.8" r="2.3" fill="url(#ge_k)"/>
<circle cx="437.05" cy="256.8" r="2.3" fill="url(#ge_k)"/>
<circle cx="440.6" cy="256.8" r="2.3" fill="url(#ge_k)"/>
<circle cx="444.15" cy="256.8" r="2.3" fill="url(#ge_k)"/>
<circle cx="447.7" cy="256.8" r="2.3" fill="url(#ge_k)"/>
<circle cx="451.25" cy="256.8" r="2.3" fill="url(#ge_k)"/>
<circle cx="454.8" cy="256.8" r="2.3" fill="url(#ge_k)"/>
<circle cx="458.35" cy="256.8" r="2.3" fill="url(#ge_k)"/>
<circle cx="461.9" cy="256.8" r="2.3" fill="url(#ge_k)"/>
<circle cx="465.45" cy="256.8" r="2.3" fill="url(#ge_k)"/>
<circle cx="469" cy="256.8" r="2.3" fill="url(#ge_k)"/>
<circle cx="472.55" cy="256.8" r="2.3" fill="url(#ge_k)"/>
<circle cx="476.1" cy="256.8" r="2.3" fill="url(#ge_k)"/>
<circle cx="479.65" cy="256.8" r="2.3" fill="url(#ge_k)"/>
<circle cx="483.2" cy="256.8" r="2.3" fill="url(#ge_k)"/>
<circle cx="486.75" cy="256.8" r="2.3" fill="url(#ge_k)"/>
<circle cx="490.3" cy="256.8" r="2.3" fill="url(#ge_k)"/>
<circle cx="493.85" cy="256.8" r="2.3" fill="url(#ge_k)"/>
<circle cx="497.4" cy="256.8" r="2.3" fill="url(#ge_k)"/>
<circle cx="500.95" cy="256.8" r="2.3" fill="url(#ge_k)"/>
<circle cx="504.5" cy="256.8" r="2.3" fill="url(#ge_k)"/>
<circle cx="508.05" cy="256.8" r="2.3" fill="url(#ge_k)"/>
<circle cx="511.6" cy="256.8" r="2.3" fill="url(#ge_k)"/>
<circle cx="515.15" cy="256.8" r="2.3" fill="url(#ge_k)"/>
<circle cx="518.7" cy="256.8" r="2.3" fill="url(#ge_k)"/>
<circle cx="522.25" cy="256.8" r="2.3" fill="url(#ge_k)"/>
<circle cx="525.8" cy="256.8" r="2.3" fill="url(#ge_k)"/>
<circle cx="529.35" cy="256.8" r="2.3" fill="url(#ge_k)"/>
<circle cx="532.9" cy="256.8" r="2.3" fill="url(#ge_k)"/>
<circle cx="536.45" cy="256.8" r="2.3" fill="url(#ge_k)"/>
<circle cx="540" cy="256.8" r="2.3" fill="url(#ge_k)"/>
<circle cx="543.55" cy="256.8" r="2.3" fill="url(#ge_k)"/>
<circle cx="547.1" cy="256.8" r="2.3" fill="url(#ge_k)"/>
<circle cx="550.65" cy="256.8" r="2.3" fill="url(#ge_k)"/>
<circle cx="554.2" cy="256.8" r="2.3" fill="url(#ge_k)"/>
<circle cx="557.75" cy="256.8" r="2.3" fill="url(#ge_k)"/>
<circle cx="561.3" cy="256.8" r="2.3" fill="url(#ge_k)"/>
<circle cx="564.85" cy="256.8" r="2.3" fill="url(#ge_k)"/>
<circle cx="568.4" cy="256.8" r="2.3" fill="url(#ge_k)"/>
<circle cx="571.95" cy="256.8" r="2.3" fill="url(#ge_k)"/>
<circle cx="575.5" cy="256.8" r="2.3" fill="url(#ge_k)"/>
<circle cx="579.05" cy="256.8" r="2.3" fill="url(#ge_k)"/>
<circle cx="582.6" cy="256.8" r="2.3" fill="url(#ge_k)"/>
<circle cx="586.15" cy="256.8" r="2.3" fill="url(#ge_k)"/>
<circle cx="589.7" cy="256.8" r="2.3" fill="url(#ge_k)"/>
<circle cx="593.25" cy="256.8" r="2.3" fill="url(#ge_k)"/>
<circle cx="596.8" cy="256.8" r="2.3" fill="url(#ge_k)"/>
<circle cx="600.35" cy="256.8" r="2.3" fill="url(#ge_k)"/>
<circle cx="603.9" cy="256.8" r="2.3" fill="url(#ge_k)"/>
<circle cx="607.45" cy="256.7" r="2.3" fill="url(#ge_k)"/>
<circle cx="611" cy="255.91" r="2.3" fill="url(#ge_k)"/>
<circle cx="614.55" cy="256.31" r="2.3" fill="url(#ge_k)"/>
<circle cx="618.1" cy="256.78" r="2.3" fill="url(#ge_k)"/>
<circle cx="621.65" cy="256.8" r="2.3" fill="url(#ge_k)"/>
<circle cx="625.2" cy="256.8" r="2.3" fill="url(#ge_k)"/>
<circle cx="628.75" cy="256.8" r="2.3" fill="url(#ge_k)"/>
<circle cx="632.3" cy="256.8" r="2.3" fill="url(#ge_k)"/>
<circle cx="635.85" cy="256.8" r="2.3" fill="url(#ge_k)"/>
<circle cx="639.4" cy="256.8" r="2.3" fill="url(#ge_k)"/>
<circle cx="642.95" cy="256.8" r="2.3" fill="url(#ge_k)"/>
<circle cx="646.5" cy="256.8" r="2.3" fill="url(#ge_k)"/>
<circle cx="650.05" cy="256.8" r="2.3" fill="url(#ge_k)"/>
<circle cx="270.2" cy="245.8" r="2.3" fill="url(#ge_g)"/>
<circle cx="273.75" cy="245.8" r="2.3" fill="url(#ge_g)"/>
<circle cx="277.3" cy="245.8" r="2.3" fill="url(#ge_g)"/>
<circle cx="280.85" cy="245.8" r="2.3" fill="url(#ge_g)"/>
<circle cx="284.4" cy="245.8" r="2.3" fill="url(#ge_g)"/>
<circle cx="287.95" cy="245.8" r="2.3" fill="url(#ge_g)"/>
<circle cx="291.5" cy="246.8" r="2.3" fill="url(#ge_g)"/>
<circle cx="295.05" cy="246.8" r="2.3" fill="url(#ge_g)"/>
<circle cx="298.6" cy="246.8" r="2.3" fill="url(#ge_g)"/>
<circle cx="302.15" cy="246.8" r="2.3" fill="url(#ge_g)"/>
<circle cx="305.7" cy="246.8" r="2.3" fill="url(#ge_g)"/>
<circle cx="309.25" cy="246.8" r="2.3" fill="url(#ge_g)"/>
<circle cx="312.8" cy="246.8" r="2.3" fill="url(#ge_g)"/>
<circle cx="316.35" cy="246.8" r="2.3" fill="url(#ge_g)"/>
<circle cx="319.9" cy="246.8" r="2.3" fill="url(#ge_g)"/>
<circle cx="323.45" cy="246.8" r="2.3" fill="url(#ge_g)"/>
<circle cx="327" cy="246.8" r="2.3" fill="url(#ge_g)"/>
<circle cx="330.55" cy="246.8" r="2.3" fill="url(#ge_g)"/>
<circle cx="334.1" cy="246.8" r="2.3" fill="url(#ge_g)"/>
<circle cx="337.65" cy="246.8" r="2.3" fill="url(#ge_g)"/>
<circle cx="341.2" cy="246.8" r="2.3" fill="url(#ge_g)"/>
<circle cx="344.75" cy="246.8" r="2.3" fill="url(#ge_g)"/>
<circle cx="348.3" cy="246.8" r="2.3" fill="url(#ge_g)"/>
<circle cx="351.85" cy="246.8" r="2.3" fill="url(#ge_g)"/>
<circle cx="355.4" cy="246.8" r="2.3" fill="url(#ge_g)"/>
<circle cx="358.95" cy="246.8" r="2.3" fill="url(#ge_g)"/>
<circle cx="362.5" cy="246.8" r="2.3" fill="url(#ge_g)"/>
<circle cx="366.05" cy="246.8" r="2.3" fill="url(#ge_g)"/>
<circle cx="369.6" cy="246.8" r="2.3" fill="url(#ge_g)"/>
<circle cx="373.15" cy="246.8" r="2.3" fill="url(#ge_g)"/>
<circle cx="376.7" cy="246.8" r="2.3" fill="url(#ge_g)"/>
<circle cx="380.25" cy="246.8" r="2.3" fill="url(#ge_g)"/>
<circle cx="383.8" cy="246.8" r="2.3" fill="url(#ge_g)"/>
<circle cx="387.35" cy="246.8" r="2.3" fill="url(#ge_g)"/>
<circle cx="390.9" cy="246.8" r="2.3" fill="url(#ge_g)"/>
<circle cx="394.45" cy="246.8" r="2.3" fill="url(#ge_g)"/>
<circle cx="398" cy="246.8" r="2.3" fill="url(#ge_g)"/>
<circle cx="401.55" cy="246.8" r="2.3" fill="url(#ge_g)"/>
<circle cx="405.1" cy="246.8" r="2.3" fill="url(#ge_g)"/>
<circle cx="408.65" cy="246.8" r="2.3" fill="url(#ge_g)"/>
<circle cx="412.2" cy="246.8" r="2.3" fill="url(#ge_g)"/>
<circle cx="415.75" cy="246.8" r="2.3" fill="url(#ge_g)"/>
<circle cx="419.3" cy="246.8" r="2.3" fill="url(#ge_g)"/>
<circle cx="422.85" cy="246.8" r="2.3" fill="url(#ge_g)"/>
<circle cx="426.4" cy="246.8" r="2.3" fill="url(#ge_g)"/>
<circle cx="429.95" cy="246.8" r="2.3" fill="url(#ge_g)"/>
<circle cx="433.5" cy="246.8" r="2.3" fill="url(#ge_g)"/>
<circle cx="437.05" cy="246.8" r="2.3" fill="url(#ge_g)"/>
<circle cx="440.6" cy="246.8" r="2.3" fill="url(#ge_g)"/>
<circle cx="444.15" cy="246.8" r="2.3" fill="url(#ge_g)"/>
<circle cx="447.7" cy="246.8" r="2.3" fill="url(#ge_g)"/>
<circle cx="451.25" cy="246.8" r="2.3" fill="url(#ge_g)"/>
<circle cx="454.8" cy="246.8" r="2.3" fill="url(#ge_g)"/>
<circle cx="458.35" cy="246.8" r="2.3" fill="url(#ge_g)"/>
<circle cx="461.9" cy="246.8" r="2.3" fill="url(#ge_g)"/>
<circle cx="465.45" cy="246.8" r="2.3" fill="url(#ge_g)"/>
<circle cx="469" cy="246.8" r="2.3" fill="url(#ge_g)"/>
<circle cx="472.55" cy="246.8" r="2.3" fill="url(#ge_g)"/>
<circle cx="476.1" cy="246.8" r="2.3" fill="url(#ge_g)"/>
<circle cx="479.65" cy="246.8" r="2.3" fill="url(#ge_g)"/>
<circle cx="483.2" cy="246.8" r="2.3" fill="url(#ge_g)"/>
<circle cx="486.75" cy="246.8" r="2.3" fill="url(#ge_g)"/>
<circle cx="490.3" cy="246.8" r="2.3" fill="url(#ge_g)"/>
<circle cx="493.85" cy="246.8" r="2.3" fill="url(#ge_g)"/>
<circle cx="497.4" cy="246.8" r="2.3" fill="url(#ge_g)"/>
<circle cx="500.95" cy="246.8" r="2.3" fill="url(#ge_g)"/>
<circle cx="504.5" cy="246.8" r="2.3" fill="url(#ge_g)"/>
<circle cx="508.05" cy="246.8" r="2.3" fill="url(#ge_g)"/>
<circle cx="511.6" cy="246.8" r="2.3" fill="url(#ge_g)"/>
<circle cx="515.15" cy="246.8" r="2.3" fill="url(#ge_g)"/>
<circle cx="518.7" cy="246.8" r="2.3" fill="url(#ge_g)"/>
<circle cx="522.25" cy="246.8" r="2.3" fill="url(#ge_g)"/>
<circle cx="525.8" cy="246.8" r="2.3" fill="url(#ge_g)"/>
<circle cx="529.35" cy="246.8" r="2.3" fill="url(#ge_g)"/>
<circle cx="532.9" cy="246.8" r="2.3" fill="url(#ge_g)"/>
<circle cx="536.45" cy="246.8" r="2.3" fill="url(#ge_g)"/>
<circle cx="540" cy="246.8" r="2.3" fill="url(#ge_g)"/>
<circle cx="543.55" cy="246.8" r="2.3" fill="url(#ge_g)"/>
<circle cx="547.1" cy="246.8" r="2.3" fill="url(#ge_g)"/>
<circle cx="550.65" cy="246.8" r="2.3" fill="url(#ge_g)"/>
<circle cx="554.2" cy="246.8" r="2.3" fill="url(#ge_g)"/>
<circle cx="557.75" cy="246.8" r="2.3" fill="url(#ge_g)"/>
<circle cx="561.3" cy="246.8" r="2.3" fill="url(#ge_g)"/>
<circle cx="564.85" cy="246.8" r="2.3" fill="url(#ge_g)"/>
<circle cx="568.4" cy="246.8" r="2.3" fill="url(#ge_g)"/>
<circle cx="571.95" cy="246.8" r="2.3" fill="url(#ge_g)"/>
<circle cx="575.5" cy="246.8" r="2.3" fill="url(#ge_g)"/>
<circle cx="579.05" cy="246.8" r="2.3" fill="url(#ge_g)"/>
<circle cx="582.6" cy="246.8" r="2.3" fill="url(#ge_g)"/>
<circle cx="586.15" cy="246.8" r="2.3" fill="url(#ge_g)"/>
<circle cx="589.7" cy="246.8" r="2.3" fill="url(#ge_g)"/>
<circle cx="593.25" cy="246.8" r="2.3" fill="url(#ge_g)"/>
<circle cx="596.8" cy="246.8" r="2.3" fill="url(#ge_g)"/>
<circle cx="600.35" cy="246.8" r="2.3" fill="url(#ge_g)"/>
<circle cx="603.9" cy="246.8" r="2.3" fill="url(#ge_g)"/>
<circle cx="607.45" cy="246.8" r="2.3" fill="url(#ge_g)"/>
<circle cx="611" cy="246.8" r="2.3" fill="url(#ge_g)"/>
<circle cx="614.55" cy="246.8" r="2.3" fill="url(#ge_g)"/>
<circle cx="618.1" cy="246.8" r="2.3" fill="url(#ge_g)"/>
<circle cx="621.65" cy="246.8" r="2.3" fill="url(#ge_g)"/>
<circle cx="625.2" cy="246.8" r="2.3" fill="url(#ge_g)"/>
<circle cx="628.75" cy="246.8" r="2.3" fill="url(#ge_g)"/>
<circle cx="632.3" cy="246.8" r="2.3" fill="url(#ge_g)"/>
<circle cx="635.85" cy="246.8" r="2.3" fill="url(#ge_g)"/>
<circle cx="639.4" cy="246.8" r="2.3" fill="url(#ge_g)"/>
<circle cx="642.95" cy="246.8" r="2.3" fill="url(#ge_g)"/>
<circle cx="646.5" cy="246.8" r="2.3" fill="url(#ge_g)"/>
<circle cx="650.05" cy="246.8" r="2.3" fill="url(#ge_g)"/>
<circle cx="270.2" cy="239.04" r="2.3" fill="url(#ge_r)"/>
<circle cx="273.75" cy="235.3" r="2.3" fill="url(#ge_r)"/>
<circle cx="277.3" cy="235.3" r="2.3" fill="url(#ge_r)"/>
<circle cx="280.85" cy="235.3" r="2.3" fill="url(#ge_r)"/>
<circle cx="284.4" cy="235.3" r="2.3" fill="url(#ge_r)"/>
<circle cx="287.95" cy="235.3" r="2.3" fill="url(#ge_r)"/>
<circle cx="291.5" cy="235.35" r="2.3" fill="url(#ge_r)"/>
<circle cx="295.05" cy="235.64" r="2.3" fill="url(#ge_r)"/>
<circle cx="298.6" cy="236.13" r="2.3" fill="url(#ge_r)"/>
<circle cx="302.15" cy="236.04" r="2.3" fill="url(#ge_r)"/>
<circle cx="305.7" cy="235.07" r="2.3" fill="url(#ge_r)"/>
<circle cx="309.25" cy="233.74" r="2.3" fill="url(#ge_r)"/>
<circle cx="312.8" cy="234.98" r="2.3" fill="url(#ge_r)"/>
<circle cx="316.35" cy="235.3" r="2.3" fill="url(#ge_r)"/>
<circle cx="319.9" cy="235.3" r="2.3" fill="url(#ge_r)"/>
<circle cx="323.45" cy="235.3" r="2.3" fill="url(#ge_r)"/>
<circle cx="327" cy="235.3" r="2.3" fill="url(#ge_r)"/>
<circle cx="330.55" cy="235.3" r="2.3" fill="url(#ge_r)"/>
<circle cx="334.1" cy="235.3" r="2.3" fill="url(#ge_r)"/>
<circle cx="337.65" cy="235.3" r="2.3" fill="url(#ge_r)"/>
<circle cx="341.2" cy="235.3" r="2.3" fill="url(#ge_r)"/>
<circle cx="344.75" cy="235.29" r="2.3" fill="url(#ge_r)"/>
<circle cx="348.3" cy="234.86" r="2.3" fill="url(#ge_r)"/>
<circle cx="351.85" cy="233.3" r="2.3" fill="url(#ge_r)"/>
<circle cx="355.4" cy="234.75" r="2.3" fill="url(#ge_r)"/>
<circle cx="358.95" cy="235.29" r="2.3" fill="url(#ge_r)"/>
<circle cx="362.5" cy="235.3" r="2.3" fill="url(#ge_r)"/>
<circle cx="366.05" cy="235.3" r="2.3" fill="url(#ge_r)"/>
<circle cx="369.6" cy="235.3" r="2.3" fill="url(#ge_r)"/>
<circle cx="373.15" cy="235.3" r="2.3" fill="url(#ge_r)"/>
<circle cx="376.7" cy="235.3" r="2.3" fill="url(#ge_r)"/>
<circle cx="380.25" cy="235.3" r="2.3" fill="url(#ge_r)"/>
<circle cx="383.8" cy="235.3" r="2.3" fill="url(#ge_r)"/>
<circle cx="387.35" cy="235.3" r="2.3" fill="url(#ge_r)"/>
<circle cx="390.9" cy="235.3" r="2.3" fill="url(#ge_r)"/>
<circle cx="394.45" cy="235.3" r="2.3" fill="url(#ge_r)"/>
<circle cx="398" cy="235.3" r="2.3" fill="url(#ge_r)"/>
<circle cx="401.55" cy="235.3" r="2.3" fill="url(#ge_r)"/>
<circle cx="405.1" cy="235.3" r="2.3" fill="url(#ge_r)"/>
<circle cx="408.65" cy="235.3" r="2.3" fill="url(#ge_r)"/>
<circle cx="412.2" cy="235.3" r="2.3" fill="url(#ge_r)"/>
<circle cx="415.75" cy="235.3" r="2.3" fill="url(#ge_r)"/>
<circle cx="419.3" cy="235.3" r="2.3" fill="url(#ge_r)"/>
<circle cx="422.85" cy="235.3" r="2.3" fill="url(#ge_r)"/>
<circle cx="426.4" cy="235.3" r="2.3" fill="url(#ge_r)"/>
<circle cx="429.95" cy="235.3" r="2.3" fill="url(#ge_r)"/>
<circle cx="433.5" cy="235.3" r="2.3" fill="url(#ge_r)"/>
<circle cx="437.05" cy="235.3" r="2.3" fill="url(#ge_r)"/>
<circle cx="440.6" cy="235.3" r="2.3" fill="url(#ge_r)"/>
<circle cx="444.15" cy="235.3" r="2.3" fill="url(#ge_r)"/>
<circle cx="447.7" cy="235.3" r="2.3" fill="url(#ge_r)"/>
<circle cx="451.25" cy="235.3" r="2.3" fill="url(#ge_r)"/>
<circle cx="454.8" cy="235.3" r="2.3" fill="url(#ge_r)"/>
<circle cx="458.35" cy="235.3" r="2.3" fill="url(#ge_r)"/>
<circle cx="461.9" cy="235.3" r="2.3" fill="url(#ge_r)"/>
<circle cx="465.45" cy="235.3" r="2.3" fill="url(#ge_r)"/>
<circle cx="469" cy="235.3" r="2.3" fill="url(#ge_r)"/>
<circle cx="472.55" cy="235.3" r="2.3" fill="url(#ge_r)"/>
<circle cx="476.1" cy="235.3" r="2.3" fill="url(#ge_r)"/>
<circle cx="479.65" cy="235.3" r="2.3" fill="url(#ge_r)"/>
<circle cx="483.2" cy="235.3" r="2.3" fill="url(#ge_r)"/>
<circle cx="486.75" cy="235.3" r="2.3" fill="url(#ge_r)"/>
<circle cx="490.3" cy="235.3" r="2.3" fill="url(#ge_r)"/>
<circle cx="493.85" cy="235.3" r="2.3" fill="url(#ge_r)"/>
<circle cx="497.4" cy="235.3" r="2.3" fill="url(#ge_r)"/>
<circle cx="500.95" cy="235.3" r="2.3" fill="url(#ge_r)"/>
<circle cx="504.5" cy="235.3" r="2.3" fill="url(#ge_r)"/>
<circle cx="508.05" cy="235.3" r="2.3" fill="url(#ge_r)"/>
<circle cx="511.6" cy="235.3" r="2.3" fill="url(#ge_r)"/>
<circle cx="515.15" cy="235.3" r="2.3" fill="url(#ge_r)"/>
<circle cx="518.7" cy="235.3" r="2.3" fill="url(#ge_r)"/>
<circle cx="522.25" cy="235.3" r="2.3" fill="url(#ge_r)"/>
<circle cx="525.8" cy="235.3" r="2.3" fill="url(#ge_r)"/>
<circle cx="529.35" cy="235.3" r="2.3" fill="url(#ge_r)"/>
<circle cx="532.9" cy="235.3" r="2.3" fill="url(#ge_r)"/>
<circle cx="536.45" cy="235.3" r="2.3" fill="url(#ge_r)"/>
<circle cx="540" cy="235.3" r="2.3" fill="url(#ge_r)"/>
<circle cx="543.55" cy="235.3" r="2.3" fill="url(#ge_r)"/>
<circle cx="547.1" cy="235.3" r="2.3" fill="url(#ge_r)"/>
<circle cx="550.65" cy="235.3" r="2.3" fill="url(#ge_r)"/>
<circle cx="554.2" cy="235.3" r="2.3" fill="url(#ge_r)"/>
<circle cx="557.75" cy="235.3" r="2.3" fill="url(#ge_r)"/>
<circle cx="561.3" cy="235.3" r="2.3" fill="url(#ge_r)"/>
<circle cx="564.85" cy="235.3" r="2.3" fill="url(#ge_r)"/>
<circle cx="568.4" cy="235.3" r="2.3" fill="url(#ge_r)"/>
<circle cx="571.95" cy="235.3" r="2.3" fill="url(#ge_r)"/>
<circle cx="575.5" cy="235.3" r="2.3" fill="url(#ge_r)"/>
<circle cx="579.05" cy="235.3" r="2.3" fill="url(#ge_r)"/>
<circle cx="582.6" cy="235.3" r="2.3" fill="url(#ge_r)"/>
<circle cx="586.15" cy="235.3" r="2.3" fill="url(#ge_r)"/>
<circle cx="589.7" cy="235.3" r="2.3" fill="url(#ge_r)"/>
<circle cx="593.25" cy="235.3" r="2.3" fill="url(#ge_r)"/>
<circle cx="596.8" cy="235.3" r="2.3" fill="url(#ge_r)"/>
<circle cx="600.35" cy="235.3" r="2.3" fill="url(#ge_r)"/>
<circle cx="603.9" cy="235.3" r="2.3" fill="url(#ge_r)"/>
<circle cx="607.45" cy="235.3" r="2.3" fill="url(#ge_r)"/>
<circle cx="611" cy="235.3" r="2.3" fill="url(#ge_r)"/>
<circle cx="614.55" cy="235.3" r="2.3" fill="url(#ge_r)"/>
<circle cx="618.1" cy="235.3" r="2.3" fill="url(#ge_r)"/>
<circle cx="621.65" cy="235.3" r="2.3" fill="url(#ge_r)"/>
<circle cx="625.2" cy="235.3" r="2.3" fill="url(#ge_r)"/>
<circle cx="628.75" cy="235.3" r="2.3" fill="url(#ge_r)"/>
<circle cx="632.3" cy="235.09" r="2.3" fill="url(#ge_r)"/>
<circle cx="635.85" cy="234.77" r="2.3" fill="url(#ge_r)"/>
<circle cx="639.4" cy="234.45" r="2.3" fill="url(#ge_r)"/>
<circle cx="642.95" cy="234.12" r="2.3" fill="url(#ge_r)"/>
<circle cx="646.5" cy="233.8" r="2.3" fill="url(#ge_r)"/>
<circle cx="650.05" cy="233.48" r="2.3" fill="url(#ge_r)"/>
<line x1="269.3" y1="226" x2="652.7" y2="226" stroke="#9a9a9a" stroke-width="1.5" />
<line x1="652.7" y1="226" x2="652.7" y2="399.6" stroke="#8a8a8a" stroke-width="1.5" />
<line x1="269.3" y1="399.6" x2="652.7" y2="399.6" stroke="#555" stroke-width="1.3" />
<line x1="269.3" y1="225.3" x2="269.3" y2="399.6" stroke="#222" stroke-width="1.1" />
<rect x="326.5" y="286.5" width="78.5" height="90" fill="#f2f2f2"/>
<rect x="326.5" y="286.5" width="78.5" height="32" fill="#f4f4f4"/>
<rect x="394" y="350" width="11" height="26" fill="#e4e4e4"/>
<rect x="326.5" y="330" width="7" height="3" fill="#fbfbfb"/>
<rect x="326.5" y="349" width="9" height="6" fill="#fafafa"/>
<rect x="370.6" y="286.5" width="2.8" height="17.5" fill="#a1978a"/>
<rect x="371.4" y="286.5" width="0.8" height="17.5" fill="#cfc8bd"/>
<path d="M351.4,303 L351.3,293.6" stroke="#151515" stroke-width="2.6" fill="none"/>
<path d="M351.3,294 Q352.5,290 356,290.3 Q360,290.8 369.7,302.4" stroke="#e41a1a" stroke-width="1.7" fill="none"/>
<path d="M375.4,304 L375.8,296 Q377,290.5 383,289.2 Q390,288 396,292.4 Q401,296.5 405,302" stroke="#121212" stroke-width="2.1" fill="none"/>
<path d="M345.2,318.5 L345.2,306 Q345.4,302.9 348.6,302.9 L359.2,302.9 Q362.5,303 362.5,306.2 L362.5,318.5 Z" fill="#cbc4b4"/>
<path d="M345.2,318.5 L345.2,306 Q345.4,302.9 348.6,302.9 L350,302.9 L350,318.5 Z" fill="#d8d2c4"/>
<circle cx="351.3" cy="307.5" r="1.5" fill="#5c574e"/>
<path d="M366.1,319 L366.1,306.2 Q366.3,303.4 369.3,303.4 L380.5,303.4 Q383.5,303.6 383.5,306.6 L383.5,319 Z" fill="#bdb5a5"/>
<circle cx="372.3" cy="307.5" r="2.1" fill="#e6e2da"/><circle cx="372.3" cy="307.5" r="1.1" fill="#8a8478"/>
<path d="M333,324.6 L338,319.6 L396,318.5 L392,321 Z" fill="#ececec"/>
<path d="M392,321 L396,318.5 L397.5,366 L394.5,373.5 Z" fill="#a6a6a6"/>
<path d="M333,324.6 L392,321 L394.5,373.5 L341.6,373.5 Z" fill="url(#plate)"/>
<ellipse cx="352" cy="345" rx="10" ry="7" fill="#b8b8b8" opacity="0.18"/>
<ellipse cx="377" cy="356" rx="9" ry="6" fill="#b0b0b0" opacity="0.15"/>
<ellipse cx="368" cy="335" rx="8" ry="4" fill="#f0f0f0" opacity="0.25"/>
<path d="M341.6,373.5 L394.5,373.5 L394.5,374.8 L341.8,374.8 Z" fill="#eeeeee"/>
<circle cx="351" cy="328.9" r="3.1" fill="url(#bolt)"/>
<circle cx="371.8" cy="328.2" r="3.1" fill="url(#bolt)"/>
<circle cx="339.5" cy="341.2" r="3.1" fill="url(#bolt)"/>
<circle cx="386.9" cy="340.4" r="3.1" fill="url(#bolt)"/>
<circle cx="343.8" cy="358.4" r="3.1" fill="url(#bolt)"/>
<circle cx="388.4" cy="358.4" r="3.1" fill="url(#bolt)"/>
<circle cx="358.2" cy="369.9" r="3.1" fill="url(#bolt)"/>
<circle cx="376.9" cy="369.5" r="3.1" fill="url(#bolt)"/>
<path d="M395,327.5 L405,335.5" stroke="#e01515" stroke-width="1.4" fill="none"/>
<path d="M394,338.8 L405,337.8" stroke="#1f3fc4" stroke-width="1.7" fill="none"/>
<path d="M394,347.8 L405,347.2" stroke="#1f3fc4" stroke-width="1.7" fill="none"/>
<text x="339.5" y="316.7" font-size="7.3" font-weight="bold" fill="#ee1c1c">Anode</text>
<text x="373.6" y="318.2" font-size="7.3" font-weight="bold" fill="#111">Cathode</text>
<rect x="326.3" y="286.2" width="79.2" height="90.6" fill="none" stroke="#111" stroke-width="1.6" stroke-dasharray="4.2 2.1"/>
<path d="M405.5,286.2 L445.2,268.8" stroke="#111" stroke-width="1.6" stroke-dasharray="4.2 2.3" fill="none"/>
<path d="M405.5,376.8 L446.4,391.1" stroke="#111" stroke-width="1.6" stroke-dasharray="4.2 2.3" fill="none"/>
<polygon points="449.7,283.3 469,272.1 472.5,273.4 453.1,285.3" fill="#4a4a4a" />
<polygon points="449.7,283.3 453.1,285.3 453.1,346.5 449.7,345.2" fill="#3c3c3c" />
<polygon points="453.1,285.3 472.5,273.4 472.5,337 453.1,346.5" fill="#737173" />
<ellipse cx="462.7" cy="285.4" rx="1.2" ry="1.85" fill="#fff"/>
<ellipse cx="470.5" cy="281.3" rx="1.2" ry="1.85" fill="#fff"/>
<ellipse cx="457.8" cy="301.7" rx="1.2" ry="1.85" fill="#fff"/>
<ellipse cx="457.8" cy="322.1" rx="1.2" ry="1.85" fill="#fff"/>
<ellipse cx="462.7" cy="333.3" rx="1.2" ry="1.85" fill="#fff"/>
<ellipse cx="470.5" cy="328.2" rx="1.2" ry="1.85" fill="#fff"/>
<rect x="451" y="287.3" width="3" height="3.6" fill="#d6d6d6"/>
<polygon points="470.9,274.2 473.5,271.9 473.5,350.4 470.9,350.6" fill="#a8a75e" />
<polygon points="470.9,274.2 480.2,269.4 482.7,269.7 473.5,271.9" fill="#b8b774" />
<polygon points="473.5,271.9 482.7,269.7 482.7,285.4 493.9,281.3 493.9,337 473.5,349.8" fill="#dcdb90" />
<polygon points="482.7,285.4 493.9,281.3 493.9,282.6 482.7,286.7" fill="#c4c384" />
<ellipse cx="479.2" cy="280.3" rx="1.2" ry="1.85" fill="#fff"/>
<ellipse cx="487.8" cy="290.1" rx="1.2" ry="1.85" fill="#fff"/>
<ellipse cx="476.2" cy="309.8" rx="1.2" ry="1.85" fill="#fff"/>
<ellipse cx="492.6" cy="300.7" rx="1.2" ry="1.85" fill="#fff"/>
<ellipse cx="476.2" cy="331.7" rx="1.2" ry="1.85" fill="#fff"/>
<ellipse cx="480.7" cy="341.4" rx="1.2" ry="1.85" fill="#fff"/>
<ellipse cx="487.8" cy="337.4" rx="1.2" ry="1.85" fill="#fff"/>
<ellipse cx="492.6" cy="322.1" rx="1.2" ry="1.85" fill="#fff"/>
<polygon points="482.3,309 487.8,306.5 487.8,325 482.3,327.5" fill="#e6e6b4"/>
<line x1="482.8" y1="310.1" x2="487.3" y2="308.0" stroke="#f8f8e8" stroke-width="0.8"/>
<line x1="482.8" y1="312.40000000000003" x2="487.3" y2="310.3" stroke="#f8f8e8" stroke-width="0.8"/>
<line x1="482.8" y1="314.70000000000005" x2="487.3" y2="312.6" stroke="#f8f8e8" stroke-width="0.8"/>
<line x1="482.8" y1="317.0" x2="487.3" y2="314.9" stroke="#f8f8e8" stroke-width="0.8"/>
<line x1="482.8" y1="319.3" x2="487.3" y2="317.2" stroke="#f8f8e8" stroke-width="0.8"/>
<line x1="482.8" y1="321.6" x2="487.3" y2="319.5" stroke="#f8f8e8" stroke-width="0.8"/>
<line x1="482.8" y1="323.90000000000003" x2="487.3" y2="321.8" stroke="#f8f8e8" stroke-width="0.8"/>
<line x1="482.8" y1="326.20000000000005" x2="487.3" y2="324.1" stroke="#f8f8e8" stroke-width="0.8"/>
<polygon points="494.2,314.7 503.6,311 503.6,339.4 494.2,344" fill="#b9aeb1" />
<polygon points="505.7,306.4 523,299 523,352 505.7,358.6" fill="#e2f8f9" />
<polygon points="509.9,318.9 518.9,314.3 518.9,337.7 509.9,344" fill="#383838" />
<polygon points="521.8,314.7 531.4,311 531.4,339.8 521.8,344" fill="#b9aeb1" />
<polygon points="531.8,313 534.4,311.2 534.4,368.6 531.8,369.9" fill="#a8a75e" />
<polygon points="540.8,289 542,288.2 542,307.4 540.8,308" fill="#a8a75e" />
<polygon points="534.4,311.2 542,307.4 542,288.2 554.8,282.6 554.8,363 534.4,368.6" fill="#dcdb90" />
<ellipse cx="551" cy="294.6" rx="1.2" ry="1.85" fill="#fff"/>
<ellipse cx="551" cy="309.9" rx="1.2" ry="1.85" fill="#fff"/>
<ellipse cx="538.2" cy="327.8" rx="1.2" ry="1.85" fill="#fff"/>
<ellipse cx="538.2" cy="349.5" rx="1.2" ry="1.85" fill="#fff"/>
<ellipse cx="542" cy="359.7" rx="1.2" ry="1.85" fill="#fff"/>
<ellipse cx="542" cy="316.3" rx="1.2" ry="1.85" fill="#fff"/>
<polygon points="547.9,313.7 571.4,302.3 575.2,303.5 551,316" fill="#5a5858" />
<polygon points="547.9,313.7 551,316 551,377.6 547.9,376.2" fill="#444" />
<polygon points="551,316 575.2,303.5 575.2,368.6 551,377.6" fill="#7d7979" />
<ellipse cx="560.7" cy="316.3" rx="1.3" ry="2.1" fill="#fff"/>
<ellipse cx="568.1" cy="311.2" rx="1.3" ry="2.1" fill="#fff"/>
<ellipse cx="555.6" cy="332.9" rx="1.3" ry="2.1" fill="#fff"/>
<ellipse cx="572.7" cy="324" rx="1.3" ry="2.1" fill="#fff"/>
<ellipse cx="572.7" cy="344.9" rx="1.3" ry="2.1" fill="#fff"/>
<ellipse cx="555.6" cy="354.1" rx="1.3" ry="2.1" fill="#fff"/>
<ellipse cx="560.7" cy="364.3" rx="1.3" ry="2.1" fill="#fff"/>
<ellipse cx="568.1" cy="359.7" rx="1.3" ry="2.1" fill="#fff"/>
<circle cx="575.8" cy="359.2" r="1.4" fill="#d8d8d8"/>
<path d="M463.5,355 L472.7,355 L472.7,349.5" stroke="#333" stroke-width="0.7" fill="none"/>
<path d="M477,363.4 L495,363.4 L495,344" stroke="#333" stroke-width="0.7" fill="none"/>
<path d="M488.7,371.4 L508.4,371.4 L508.4,342.5" stroke="#d23a3a" stroke-width="0.7" fill="none"/>
<path d="M492.4,378.7 L512.8,378.7 L512.8,341" stroke="#4a86c8" stroke-width="0.7" fill="none"/>
<path d="M525.2,340 L525.2,382.3" stroke="#333" stroke-width="0.7" fill="none"/>
<path d="M543.3,367 L543.3,386.7" stroke="#333" stroke-width="0.7" fill="none"/>
<path d="M441.5,284.5 L450.5,289" stroke="#333" stroke-width="0.7" fill="none"/>
<polygon points="477,363.4 479.2,362.29999999999995 479.2,364.5" fill="#333"/>
<polygon points="488.7,371.4 490.9,370.29999999999995 490.9,372.5" fill="#d23a3a"/>
<polygon points="492.4,378.7 494.59999999999997,377.59999999999997 494.59999999999997,379.8" fill="#4a86c8"/>
<polygon points="525.2,382.5 524.1,380.3 526.3000000000001,380.3" fill="#333"/>
<polygon points="543.3,386.9 542.1999999999999,384.7 544.4,384.7" fill="#333"/>
<text x="420.1" y="357.2" font-size="6" font-weight="bold" fill="#222">Flow-field plate</text>
<text x="420.1" y="365.6" font-size="6" font-weight="bold" fill="#222">Gas diffusion layer</text>
<text x="454.7" y="373.6" font-size="6" font-weight="bold" fill="#d42a2a">F-RuO<tspan baseline-shift="-12%" font-size="0.62em">2</tspan>/FC</text>
<text x="477.5" y="380.9" font-size="6" font-weight="bold" fill="#3d7cc8">Pt/C</text>
<text x="477.3" y="387.2" font-size="6" font-weight="bold" fill="#222">Gas diffusion layer</text>
<text x="520.4" y="394" font-size="6" font-weight="bold" fill="#222">Flow-field plate</text>
<text x="432.5" y="285.2" font-size="6" font-weight="bold" fill="#222">out</text>
<text transform="translate(447.6,313.2) rotate(-90)" font-size="6" font-weight="bold" font-size="6.5" text-anchor="middle" fill="#222">Anode</text>
<text transform="translate(581.5,335.4) rotate(-90)" font-size="6" font-weight="bold" font-size="6.5" text-anchor="middle" fill="#222">Cathode</text>
<circle cx="592" cy="269.1" r="2.5" fill="url(#ge_r)"/>
<text x="598.7" y="271.9" font-size="7.9" text-anchor="start" font-weight="bold" fill="#ea2a30" >1000 mA cm<tspan baseline-shift="55%" font-size="0.7em">-2</tspan></text>
<circle cx="592" cy="280.2" r="2.5" fill="url(#ge_g)"/>
<text x="598.7" y="283" font-size="8.2" text-anchor="start" font-weight="normal" fill="#86c29c" stroke="#86c29c" stroke-width="0.25">500 mA cm<tspan baseline-shift="55%" font-size="0.7em">-2</tspan></text>
<circle cx="592" cy="291.3" r="2.5" fill="url(#ge_k)"/>
<text x="598.7" y="294.1" font-size="8.2" text-anchor="start" font-weight="normal" fill="#777" stroke="#777" stroke-width="0.25">100 mA cm<tspan baseline-shift="55%" font-size="0.7em">-2</tspan></text>
<text x="229.2" y="230.1" font-size="18.5" text-anchor="start" font-weight="bold" fill="#111" >e</text>
<text transform="translate(248.4,312.2) rotate(-90)" font-size="13" text-anchor="middle" font-weight="bold" fill="#111">Cell voltage (V)</text>
<text x="461.7" y="426.3" font-size="13" text-anchor="middle" font-weight="bold" fill="#111" >Time (month)</text></svg></body></html>
